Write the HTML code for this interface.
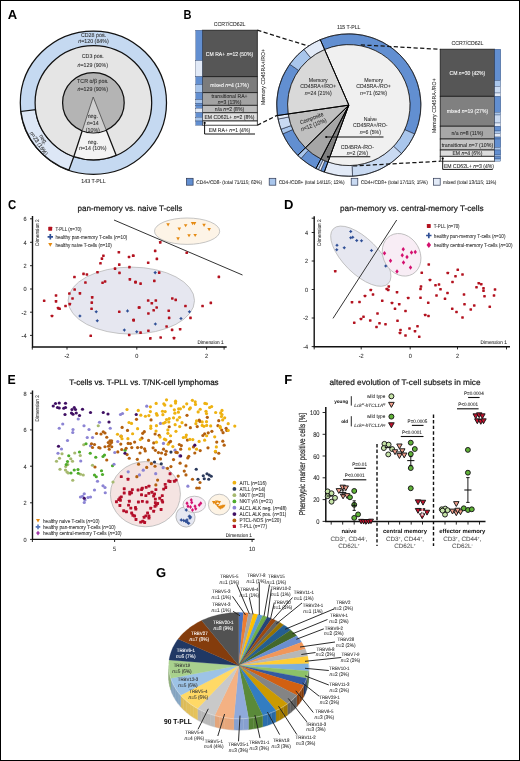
<!DOCTYPE html>
<html lang="en"><head><meta charset="utf-8"><title>Figure</title>
<style>
html,body{margin:0;padding:0;background:#fff;}
body{width:520px;height:761px;overflow:hidden;}
svg{display:block;font-family:"Liberation Sans",sans-serif;text-rendering:geometricPrecision;}
</style></head><body>
<svg width="520" height="761" viewBox="0 0 520 761">
<rect x="0" y="0" width="520" height="761" fill="#fff"/>
<g transform="translate(0 102.7) scale(1 0.98) translate(0 -102.7)">
<circle cx="93.4" cy="102.7" r="73.1" fill="#c5d9f1" stroke="#111" stroke-width="1.25"/>
<path d="M68.88,171.56 A73.10,73.10 0 0 1 20.84,111.61 L35.53,109.80 A58.30,58.30 0 0 0 73.84,157.62 Z" fill="#dde7f6" stroke="#111" stroke-width="1.25"/>
<circle cx="93.4" cy="102.7" r="58.3" fill="#e5e5e5" stroke="#111" stroke-width="1.25"/>
<path d="M93.2,96.9 L73.84,157.62 A58.3,58.3 0 0 0 116.18,156.37 Z" fill="#f3f3f3" stroke="#111" stroke-width="1.25" stroke-linejoin="round"/>
<circle cx="93.4" cy="102.7" r="30.8" fill="#b4b4b4" stroke="#111" stroke-width="1.25"/>
<clipPath id="cA"><circle cx="93.4" cy="102.7" r="30.400000000000002"/></clipPath>
<path clip-path="url(#cA)" d="M93.2,96.9 L73.84,157.62 L116.18,156.37 Z" fill="#d0d0d0" stroke="#444" stroke-width="0.8"/>
</g>
<text x="93.50" y="37.40" font-size="5.83" text-anchor="middle" fill="#2a2a2a" textLength="25.04" lengthAdjust="spacingAndGlyphs" stroke="#2a2a2a" stroke-width="0.07">CD28 pos.</text>
<text x="93.50" y="43.40" font-size="5.83" text-anchor="middle" fill="#2a2a2a" textLength="30.50" lengthAdjust="spacingAndGlyphs" stroke="#2a2a2a" stroke-width="0.07"><tspan font-style="italic">n</tspan>=120 (84%)</text>
<text x="92.80" y="58.30" font-size="5.83" text-anchor="middle" fill="#2a2a2a" textLength="22.09" lengthAdjust="spacingAndGlyphs" stroke="#2a2a2a" stroke-width="0.07">CD3 pos.</text>
<text x="92.80" y="66.50" font-size="5.83" text-anchor="middle" fill="#2a2a2a" textLength="30.50" lengthAdjust="spacingAndGlyphs" stroke="#2a2a2a" stroke-width="0.07"><tspan font-style="italic">n</tspan>=129 (90%)</text>
<text x="92.80" y="82.70" font-size="5.83" text-anchor="middle" fill="#2a2a2a" textLength="31.44" lengthAdjust="spacingAndGlyphs" stroke="#2a2a2a" stroke-width="0.07">TCR α/β pos.</text>
<text x="92.80" y="90.70" font-size="5.83" text-anchor="middle" fill="#2a2a2a" textLength="30.50" lengthAdjust="spacingAndGlyphs" stroke="#2a2a2a" stroke-width="0.07"><tspan font-style="italic">n</tspan>=129 (90%)</text>
<text x="92.80" y="117.70" font-size="5.83" text-anchor="middle" fill="#2a2a2a" textLength="10.32" lengthAdjust="spacingAndGlyphs" stroke="#2a2a2a" stroke-width="0.07">neg.</text>
<text x="92.80" y="125.30" font-size="5.83" text-anchor="middle" fill="#2a2a2a" textLength="11.94" lengthAdjust="spacingAndGlyphs" stroke="#2a2a2a" stroke-width="0.07"><tspan font-style="italic">n</tspan>=14</text>
<text x="92.80" y="131.50" font-size="5.83" text-anchor="middle" fill="#2a2a2a" textLength="14.14" lengthAdjust="spacingAndGlyphs" stroke="#2a2a2a" stroke-width="0.07">(10%)</text>
<text x="92.80" y="143.70" font-size="5.83" text-anchor="middle" fill="#2a2a2a" textLength="10.32" lengthAdjust="spacingAndGlyphs" stroke="#2a2a2a" stroke-width="0.07">neg.</text>
<text x="92.80" y="150.00" font-size="5.83" text-anchor="middle" fill="#2a2a2a" textLength="27.55" lengthAdjust="spacingAndGlyphs" stroke="#2a2a2a" stroke-width="0.07"><tspan font-style="italic">n</tspan>=14 (10%)</text>
<text x="93.50" y="183.40" font-size="5.83" text-anchor="middle" fill="#2a2a2a" textLength="24.36" lengthAdjust="spacingAndGlyphs" stroke="#2a2a2a" stroke-width="0.07">143 T-PLL</text>
<text x="43.60" y="141.30" font-size="5.83" text-anchor="middle" fill="#2a2a2a" textLength="10.32" lengthAdjust="spacingAndGlyphs" transform="rotate(56 43.60 139.20)" stroke="#2a2a2a" stroke-width="0.07">neg.</text>
<text x="39.00" y="145.50" font-size="5.83" text-anchor="middle" fill="#2a2a2a" textLength="27.55" lengthAdjust="spacingAndGlyphs" transform="rotate(56 39.00 143.40)" stroke="#2a2a2a" stroke-width="0.07"><tspan font-style="italic">n</tspan>=23 (16%)</text>
<text x="12.40" y="18.68" font-size="13" text-anchor="middle" fill="#000" font-weight="bold">A</text>
<text x="187.60" y="18.88" font-size="13" text-anchor="middle" fill="#000" font-weight="bold" textLength="8.00" lengthAdjust="spacingAndGlyphs">B</text>
<rect x="202.3" y="30.2" width="55.0" height="46.50" fill="#565656" stroke="#1a1a1a" stroke-width="0.8"/>
<text x="229.50" y="55.67" font-size="5.61" text-anchor="middle" fill="#fff" textLength="47.34" lengthAdjust="spacingAndGlyphs" stroke="#fff" stroke-width="0.07">CM RA+ <tspan font-style="italic">n</tspan>=12 (50%)</text>
<rect x="202.3" y="76.7" width="55.0" height="16.00" fill="#7c7c7c" stroke="#1a1a1a" stroke-width="0.8"/>
<text x="229.50" y="86.92" font-size="5.61" text-anchor="middle" fill="#fff" textLength="38.69" lengthAdjust="spacingAndGlyphs" stroke="#fff" stroke-width="0.07">mixed <tspan font-style="italic">n</tspan>=4 (17%)</text>
<rect x="202.3" y="92.7" width="55.0" height="12.60" fill="#a3a3a3" stroke="#1a1a1a" stroke-width="0.8"/>
<rect x="202.3" y="105.3" width="55.0" height="7.50" fill="#bcbcbc" stroke="#1a1a1a" stroke-width="0.8"/>
<text x="229.50" y="111.27" font-size="5.61" text-anchor="middle" fill="#2a2a2a" textLength="29.34" lengthAdjust="spacingAndGlyphs" stroke="#2a2a2a" stroke-width="0.07">n/a <tspan font-style="italic">n</tspan>=2 (8%)</text>
<rect x="202.3" y="112.8" width="55.0" height="8.20" fill="#dedede" stroke="#1a1a1a" stroke-width="0.8"/>
<text x="229.50" y="119.12" font-size="5.61" text-anchor="middle" fill="#2a2a2a" textLength="50.17" lengthAdjust="spacingAndGlyphs" stroke="#2a2a2a" stroke-width="0.07">EM CD62L+ <tspan font-style="italic">n</tspan>=2 (8%)</text>
<rect x="202.3" y="121.0" width="55.0" height="4.20" fill="#ffffff" stroke="#1a1a1a" stroke-width="0.8"/>
<text x="229.50" y="97.92" font-size="5.61" text-anchor="middle" fill="#2a2a2a" textLength="36.14" lengthAdjust="spacingAndGlyphs" stroke="#2a2a2a" stroke-width="0.07">transitional RA+</text>
<text x="229.50" y="103.92" font-size="5.61" text-anchor="middle" fill="#2a2a2a" textLength="23.67" lengthAdjust="spacingAndGlyphs" stroke="#2a2a2a" stroke-width="0.07"><tspan font-style="italic">n</tspan>=3 (13%)</text>
<rect x="195.8" y="30.20" width="6.5" height="30.40" fill="#628fd1" stroke="#2b3f66" stroke-width="0.35"/>
<rect x="195.8" y="60.60" width="6.5" height="16.10" fill="#e2eaf7" stroke="#2b3f66" stroke-width="0.35"/>
<rect x="195.8" y="76.70" width="6.5" height="7.90" fill="#628fd1" stroke="#2b3f66" stroke-width="0.35"/>
<rect x="195.8" y="84.60" width="6.5" height="8.10" fill="#a9c6ec" stroke="#2b3f66" stroke-width="0.35"/>
<rect x="195.8" y="92.70" width="6.5" height="6.90" fill="#628fd1" stroke="#2b3f66" stroke-width="0.35"/>
<rect x="195.8" y="99.60" width="6.5" height="3.60" fill="#a9c6ec" stroke="#2b3f66" stroke-width="0.35"/>
<rect x="195.8" y="103.20" width="6.5" height="2.10" fill="#628fd1" stroke="#2b3f66" stroke-width="0.35"/>
<rect x="195.8" y="105.30" width="6.5" height="2.90" fill="#628fd1" stroke="#2b3f66" stroke-width="0.35"/>
<rect x="195.8" y="108.20" width="6.5" height="4.60" fill="#e2eaf7" stroke="#2b3f66" stroke-width="0.35"/>
<rect x="195.8" y="112.80" width="6.5" height="4.40" fill="#628fd1" stroke="#2b3f66" stroke-width="0.35"/>
<rect x="195.8" y="117.20" width="6.5" height="3.80" fill="#a9c6ec" stroke="#2b3f66" stroke-width="0.35"/>
<rect x="195.8" y="121.00" width="6.5" height="4.20" fill="#628fd1" stroke="#2b3f66" stroke-width="0.35"/>
<text x="229.60" y="26.06" font-size="5.72" text-anchor="middle" fill="#2a2a2a" textLength="31.79" lengthAdjust="spacingAndGlyphs" stroke="#2a2a2a" stroke-width="0.07">CCR7/CD62L</text>
<text x="263.00" y="79.06" font-size="5.72" text-anchor="middle" fill="#2a2a2a" textLength="56.06" lengthAdjust="spacingAndGlyphs" transform="rotate(-90 263.00 77.00)" stroke="#2a2a2a" stroke-width="0.07">Memory CD45RA+/RO+</text>
<circle cx="204.6" cy="122.9" r="1.1" fill="#000"/>
<path d="M204.6,122.9 V134 H255" fill="none" stroke="#111" stroke-width="1.0"/>
<text x="229.50" y="131.72" font-size="5.61" text-anchor="middle" fill="#2a2a2a" textLength="41.38" lengthAdjust="spacingAndGlyphs" stroke="#2a2a2a" stroke-width="0.07">EM RA+ <tspan font-style="italic">n</tspan>=1 (4%)</text>
<path d="M257.3,30.2 L310,46.6" stroke="#151515" stroke-width="1.25" stroke-dasharray="4.2 2.4" fill="none"/>
<path d="M257.3,125.2 L278,114.9" stroke="#151515" stroke-width="1.25" stroke-dasharray="4.2 2.4" fill="none"/>
<g transform="translate(0 105.1) scale(1 0.988) translate(0 -105.1)">
<path d="M320.28,38.88 A72.10,72.10 0 0 1 414.67,134.43 L404.71,129.99 A61.20,61.20 0 0 0 324.59,48.89 Z" fill="#628fd1" stroke="#1a2238" stroke-width="0.6"/>
<path d="M414.67,134.43 A72.10,72.10 0 0 1 401.53,154.27 L393.56,146.84 A61.20,61.20 0 0 0 404.71,129.99 Z" fill="#a9c6ec" stroke="#1a2238" stroke-width="0.6"/>
<path d="M401.53,154.27 A72.10,72.10 0 0 1 352.57,177.10 L352.00,166.22 A61.20,61.20 0 0 0 393.56,146.84 Z" fill="#c9daf2" stroke="#1a2238" stroke-width="0.6"/>
<path d="M352.57,177.10 A72.10,72.10 0 0 1 324.26,172.89 L327.97,162.65 A61.20,61.20 0 0 0 352.00,166.22 Z" fill="#e2eaf7" stroke="#1a2238" stroke-width="0.6"/>
<path d="M324.26,172.89 A72.10,72.10 0 0 1 320.63,171.47 L324.89,161.43 A61.20,61.20 0 0 0 327.97,162.65 Z" fill="#628fd1" stroke="#1a2238" stroke-width="0.6"/>
<path d="M320.63,171.47 A72.10,72.10 0 0 1 318.33,170.44 L322.94,160.57 A61.20,61.20 0 0 0 324.89,161.43 Z" fill="#e2eaf7" stroke="#1a2238" stroke-width="0.6"/>
<path d="M318.33,170.44 A72.10,72.10 0 0 1 315.96,169.28 L320.92,159.58 A61.20,61.20 0 0 0 322.94,160.57 Z" fill="#a9c6ec" stroke="#1a2238" stroke-width="0.6"/>
<path d="M315.96,169.28 A72.10,72.10 0 0 1 301.03,159.10 L308.25,150.94 A61.20,61.20 0 0 0 320.92,159.58 Z" fill="#628fd1" stroke="#1a2238" stroke-width="0.6"/>
<path d="M301.03,159.10 A72.10,72.10 0 0 1 297.73,155.99 L305.45,148.30 A61.20,61.20 0 0 0 308.25,150.94 Z" fill="#a9c6ec" stroke="#1a2238" stroke-width="0.6"/>
<path d="M297.73,155.99 A72.10,72.10 0 0 1 282.83,134.20 L292.80,129.80 A61.20,61.20 0 0 0 305.45,148.30 Z" fill="#628fd1" stroke="#1a2238" stroke-width="0.6"/>
<path d="M282.83,134.20 A72.10,72.10 0 0 1 280.96,129.52 L291.22,125.83 A61.20,61.20 0 0 0 292.80,129.80 Z" fill="#a9c6ec" stroke="#1a2238" stroke-width="0.6"/>
<path d="M280.96,129.52 A72.10,72.10 0 0 1 278.10,119.23 L288.79,117.09 A61.20,61.20 0 0 0 291.22,125.83 Z" fill="#c9daf2" stroke="#1a2238" stroke-width="0.6"/>
<path d="M278.10,119.23 A72.10,72.10 0 0 1 277.47,115.63 L288.26,114.04 A61.20,61.20 0 0 0 288.79,117.09 Z" fill="#e2eaf7" stroke="#1a2238" stroke-width="0.6"/>
<path d="M277.47,115.63 A72.10,72.10 0 0 1 289.74,63.75 L298.67,70.00 A61.20,61.20 0 0 0 288.26,114.04 Z" fill="#628fd1" stroke="#1a2238" stroke-width="0.6"/>
<path d="M289.74,63.75 A72.10,72.10 0 0 1 303.92,48.67 L310.70,57.20 A61.20,61.20 0 0 0 298.67,70.00 Z" fill="#a9c6ec" stroke="#1a2238" stroke-width="0.6"/>
<path d="M303.92,48.67 A72.10,72.10 0 0 1 320.28,38.88 L324.59,48.89 A61.20,61.20 0 0 0 310.70,57.20 Z" fill="#e2eaf7" stroke="#1a2238" stroke-width="0.6"/>
<path d="M348.80,105.10 L324.59,48.89 A61.20,61.20 0 1 1 327.97,162.65 Z" fill="#f0f0f0" stroke="#111" stroke-width="0.8" stroke-linejoin="round"/>
<path d="M348.80,105.10 L327.97,162.65 A61.20,61.20 0 0 1 320.92,159.58 Z" fill="#7f7f7f" stroke="#111" stroke-width="0.8" stroke-linejoin="round"/>
<path d="M348.80,105.10 L320.92,159.58 A61.20,61.20 0 0 1 305.45,148.30 Z" fill="#a6a6a6" stroke="#111" stroke-width="0.8" stroke-linejoin="round"/>
<path d="M348.80,105.10 L305.45,148.30 A61.20,61.20 0 0 1 288.26,114.04 Z" fill="#c0c0c0" stroke="#111" stroke-width="0.8" stroke-linejoin="round"/>
<path d="M348.80,105.10 L288.26,114.04 A61.20,61.20 0 0 1 324.59,48.89 Z" fill="#d9d9d9" stroke="#111" stroke-width="0.8" stroke-linejoin="round"/>
<circle cx="348.8" cy="105.1" r="72.1" fill="none" stroke="#1a1a1a" stroke-width="0.8"/>
<line x1="348.8" y1="105.1" x2="320.28" y2="38.88" stroke="#000" stroke-width="1.0"/>
<line x1="348.8" y1="105.1" x2="277.47" y2="115.63" stroke="#000" stroke-width="1.0"/>
<line x1="348.8" y1="105.1" x2="297.73" y2="155.99" stroke="#000" stroke-width="1.0"/>
<line x1="348.8" y1="105.1" x2="315.96" y2="169.28" stroke="#000" stroke-width="1.0"/>
<line x1="348.8" y1="105.1" x2="324.26" y2="172.89" stroke="#000" stroke-width="1.0"/>
</g>
<text x="373.60" y="81.66" font-size="5.72" text-anchor="middle" fill="#2a2a2a" textLength="18.78" lengthAdjust="spacingAndGlyphs" stroke="#2a2a2a" stroke-width="0.07">Memory</text>
<text x="373.60" y="88.26" font-size="5.72" text-anchor="middle" fill="#2a2a2a" textLength="34.53" lengthAdjust="spacingAndGlyphs" stroke="#2a2a2a" stroke-width="0.07">CD45RA-/RO+</text>
<text x="373.60" y="94.86" font-size="5.72" text-anchor="middle" fill="#2a2a2a" textLength="27.03" lengthAdjust="spacingAndGlyphs" stroke="#2a2a2a" stroke-width="0.07"><tspan font-style="italic">n</tspan>=71 (62%)</text>
<text x="318.20" y="81.66" font-size="5.72" text-anchor="middle" fill="#2a2a2a" textLength="18.78" lengthAdjust="spacingAndGlyphs" stroke="#2a2a2a" stroke-width="0.07">Memory</text>
<text x="318.20" y="88.26" font-size="5.72" text-anchor="middle" fill="#2a2a2a" textLength="35.84" lengthAdjust="spacingAndGlyphs" stroke="#2a2a2a" stroke-width="0.07">CD45RA+/RO+</text>
<text x="318.20" y="94.86" font-size="5.72" text-anchor="middle" fill="#2a2a2a" textLength="27.03" lengthAdjust="spacingAndGlyphs" stroke="#2a2a2a" stroke-width="0.07"><tspan font-style="italic">n</tspan>=24 (21%)</text>
<text x="370.30" y="120.66" font-size="5.72" text-anchor="middle" fill="#2a2a2a" textLength="13.29" lengthAdjust="spacingAndGlyphs" stroke="#2a2a2a" stroke-width="0.07">Naive</text>
<text x="370.30" y="127.06" font-size="5.72" text-anchor="middle" fill="#2a2a2a" textLength="34.53" lengthAdjust="spacingAndGlyphs" stroke="#2a2a2a" stroke-width="0.07">CD45RA+/RO-</text>
<text x="370.30" y="133.66" font-size="5.72" text-anchor="middle" fill="#2a2a2a" textLength="21.24" lengthAdjust="spacingAndGlyphs" stroke="#2a2a2a" stroke-width="0.07"><tspan font-style="italic">n</tspan>=6 (5%)</text>
<text x="357.30" y="148.86" font-size="5.72" text-anchor="middle" fill="#2a2a2a" textLength="33.23" lengthAdjust="spacingAndGlyphs" stroke="#2a2a2a" stroke-width="0.07">CD45RA-/RO-</text>
<text x="357.30" y="155.46" font-size="5.72" text-anchor="middle" fill="#2a2a2a" textLength="21.24" lengthAdjust="spacingAndGlyphs" stroke="#2a2a2a" stroke-width="0.07"><tspan font-style="italic">n</tspan>=2 (2%)</text>
<text x="348.70" y="28.76" font-size="5.72" text-anchor="middle" fill="#2a2a2a" textLength="23.52" lengthAdjust="spacingAndGlyphs" stroke="#2a2a2a" stroke-width="0.07">115 T-PLL</text>
<text x="311.60" y="120.26" font-size="5.72" text-anchor="middle" fill="#2a2a2a" textLength="24.86" lengthAdjust="spacingAndGlyphs" transform="rotate(-21 311.60 118.20)" stroke="#2a2a2a" stroke-width="0.07">Composite</text>
<text x="313.60" y="126.66" font-size="5.72" text-anchor="middle" fill="#2a2a2a" textLength="27.03" lengthAdjust="spacingAndGlyphs" transform="rotate(-21 313.60 124.60)" stroke="#2a2a2a" stroke-width="0.07"><tspan font-style="italic">n</tspan>=12 (10%)</text>
<circle cx="326.2" cy="137" r="1.1" fill="#000"/><path d="M326.2,137 H383.5" stroke="#111" stroke-width="1.1"/>
<circle cx="328.0" cy="156.8" r="1.1" fill="#000"/><path d="M328,156.8 H370.3" stroke="#111" stroke-width="1.1"/>
<path d="M360.8,44.9 L440.2,49.3" stroke="#151515" stroke-width="1.25" stroke-dasharray="4.2 2.4" fill="none"/>
<path d="M353,166 L440.2,161.2" stroke="#151515" stroke-width="1.25" stroke-dasharray="4.2 2.4" fill="none"/>
<rect x="440.2" y="49.2" width="54.400000000000034" height="47.10" fill="#565656" stroke="#1a1a1a" stroke-width="0.8"/>
<text x="467.40" y="74.97" font-size="5.61" text-anchor="middle" fill="#fff" textLength="35.86" lengthAdjust="spacingAndGlyphs" stroke="#fff" stroke-width="0.07">CM <tspan font-style="italic">n</tspan>=30 (42%)</text>
<rect x="440.2" y="96.3" width="54.400000000000034" height="29.90" fill="#808080" stroke="#1a1a1a" stroke-width="0.8"/>
<text x="467.40" y="113.47" font-size="5.61" text-anchor="middle" fill="#fff" textLength="41.53" lengthAdjust="spacingAndGlyphs" stroke="#fff" stroke-width="0.07">mixed <tspan font-style="italic">n</tspan>=19 (27%)</text>
<rect x="440.2" y="126.2" width="54.400000000000034" height="12.80" fill="#a8a8a8" stroke="#1a1a1a" stroke-width="0.8"/>
<text x="467.40" y="134.82" font-size="5.61" text-anchor="middle" fill="#2a2a2a" textLength="31.80" lengthAdjust="spacingAndGlyphs" stroke="#2a2a2a" stroke-width="0.07">n/a <tspan font-style="italic">n</tspan>=8 (11%)</text>
<rect x="440.2" y="139.0" width="54.400000000000034" height="11.00" fill="#c4c4c4" stroke="#1a1a1a" stroke-width="0.8"/>
<text x="467.40" y="146.72" font-size="5.61" text-anchor="middle" fill="#2a2a2a" textLength="51.50" lengthAdjust="spacingAndGlyphs" stroke="#2a2a2a" stroke-width="0.07">transitional <tspan font-style="italic">n</tspan>=7 (10%)</text>
<rect x="440.2" y="150.0" width="54.400000000000034" height="6.30" fill="#dddddd" stroke="#1a1a1a" stroke-width="0.8"/>
<text x="467.40" y="155.37" font-size="5.61" text-anchor="middle" fill="#2a2a2a" textLength="29.90" lengthAdjust="spacingAndGlyphs" stroke="#2a2a2a" stroke-width="0.07">EM <tspan font-style="italic">n</tspan>=4 (6%)</text>
<rect x="440.2" y="156.3" width="54.400000000000034" height="4.90" fill="#ffffff" stroke="#1a1a1a" stroke-width="0.8"/>
<rect x="494.6" y="49.20" width="6.2" height="31.40" fill="#628fd1" stroke="#2b3f66" stroke-width="0.35"/>
<rect x="494.6" y="80.60" width="6.2" height="5.90" fill="#a9c6ec" stroke="#2b3f66" stroke-width="0.35"/>
<rect x="494.6" y="86.50" width="6.2" height="6.50" fill="#c9daf2" stroke="#2b3f66" stroke-width="0.35"/>
<rect x="494.6" y="93.00" width="6.2" height="3.30" fill="#e2eaf7" stroke="#2b3f66" stroke-width="0.35"/>
<rect x="494.6" y="96.30" width="6.2" height="16.00" fill="#628fd1" stroke="#2b3f66" stroke-width="0.35"/>
<rect x="494.6" y="112.30" width="6.2" height="2.70" fill="#a9c6ec" stroke="#2b3f66" stroke-width="0.35"/>
<rect x="494.6" y="115.00" width="6.2" height="8.00" fill="#c9daf2" stroke="#2b3f66" stroke-width="0.35"/>
<rect x="494.6" y="123.00" width="6.2" height="3.20" fill="#e2eaf7" stroke="#2b3f66" stroke-width="0.35"/>
<rect x="494.6" y="126.20" width="6.2" height="4.80" fill="#628fd1" stroke="#2b3f66" stroke-width="0.35"/>
<rect x="494.6" y="131.00" width="6.2" height="2.50" fill="#a9c6ec" stroke="#2b3f66" stroke-width="0.35"/>
<rect x="494.6" y="133.50" width="6.2" height="3.50" fill="#e2eaf7" stroke="#2b3f66" stroke-width="0.35"/>
<rect x="494.6" y="137.00" width="6.2" height="2.00" fill="#628fd1" stroke="#2b3f66" stroke-width="0.35"/>
<rect x="494.6" y="139.00" width="6.2" height="8.50" fill="#628fd1" stroke="#2b3f66" stroke-width="0.35"/>
<rect x="494.6" y="147.50" width="6.2" height="2.50" fill="#a9c6ec" stroke="#2b3f66" stroke-width="0.35"/>
<rect x="494.6" y="150.00" width="6.2" height="5.00" fill="#628fd1" stroke="#2b3f66" stroke-width="0.35"/>
<rect x="494.6" y="155.00" width="6.2" height="1.30" fill="#a9c6ec" stroke="#2b3f66" stroke-width="0.35"/>
<rect x="494.6" y="156.30" width="6.2" height="2.70" fill="#628fd1" stroke="#2b3f66" stroke-width="0.35"/>
<rect x="494.6" y="159.00" width="6.2" height="2.20" fill="#a9c6ec" stroke="#2b3f66" stroke-width="0.35"/>
<text x="467.50" y="45.06" font-size="5.72" text-anchor="middle" fill="#2a2a2a" textLength="31.79" lengthAdjust="spacingAndGlyphs" stroke="#2a2a2a" stroke-width="0.07">CCR7/CD62L</text>
<text x="433.80" y="107.76" font-size="5.72" text-anchor="middle" fill="#2a2a2a" textLength="54.76" lengthAdjust="spacingAndGlyphs" transform="rotate(-90 433.80 105.70)" stroke="#2a2a2a" stroke-width="0.07">Memory CD45RA-/RO+</text>
<circle cx="442.7" cy="158.4" r="1.1" fill="#000"/>
<path d="M442.7,158.4 V169.4 H492.7" fill="none" stroke="#111" stroke-width="1.0"/>
<text x="469.00" y="167.92" font-size="5.61" text-anchor="middle" fill="#2a2a2a" textLength="50.17" lengthAdjust="spacingAndGlyphs" stroke="#2a2a2a" stroke-width="0.07">EM CD62L+ <tspan font-style="italic">n</tspan>=3 (4%)</text>
<rect x="186.5" y="178.3" width="6.6" height="6.9" fill="#628fd1" stroke="#2b3550" stroke-width="0.7"/>
<text x="196.30" y="183.88" font-size="5.23" text-anchor="start" fill="#2a2a2a" textLength="65.78" lengthAdjust="spacingAndGlyphs" stroke="#2a2a2a" stroke-width="0.07">CD4+/CD8- (total 71/115; 62%)</text>
<rect x="269.2" y="178.3" width="6.6" height="6.9" fill="#a9c6ec" stroke="#2b3550" stroke-width="0.7"/>
<text x="278.70" y="183.88" font-size="5.23" text-anchor="start" fill="#2a2a2a" textLength="65.78" lengthAdjust="spacingAndGlyphs" stroke="#2a2a2a" stroke-width="0.07">CD4-/CD8+ (total 14/115; 12%)</text>
<rect x="351.2" y="178.3" width="6.6" height="6.9" fill="#c9daf2" stroke="#2b3550" stroke-width="0.7"/>
<text x="360.80" y="183.88" font-size="5.23" text-anchor="start" fill="#2a2a2a" textLength="66.98" lengthAdjust="spacingAndGlyphs" stroke="#2a2a2a" stroke-width="0.07">CD4+/CD8+ (total 17/115; 15%)</text>
<rect x="433.6" y="178.3" width="6.6" height="6.9" fill="#e2eaf7" stroke="#2b3550" stroke-width="0.7"/>
<text x="443.00" y="183.88" font-size="5.23" text-anchor="start" fill="#2a2a2a" textLength="53.42" lengthAdjust="spacingAndGlyphs" stroke="#2a2a2a" stroke-width="0.07">mixed (total 13/115; 11%)</text>
<text x="12.00" y="209.38" font-size="13" text-anchor="middle" fill="#000" font-weight="bold" textLength="8.20" lengthAdjust="spacingAndGlyphs">C</text>
<text x="129.90" y="210.50" font-size="8.05" text-anchor="middle" fill="#1a1a1a" textLength="105.00" lengthAdjust="spacingAndGlyphs" stroke="#1a1a1a" stroke-width="0.22">pan-memory vs. naive T-cells</text>
<ellipse cx="131.3" cy="300.6" rx="63.2" ry="33.5" fill="#e6e7f0" stroke="#b8b8b8" stroke-width="0.8"/>
<ellipse cx="187.1" cy="231.2" rx="32.6" ry="13.2" fill="#fdf4e7" stroke="#b8b8b8" stroke-width="0.8"/>
<line x1="114" y1="220" x2="242.5" y2="275" stroke="#333" stroke-width="1.0"/>
<path d="M32.5,216 V347 H226.7" fill="none" stroke="#111" stroke-width="1.4"/>
<line x1="30.0" y1="218.8" x2="32.5" y2="218.8" stroke="#111" stroke-width="0.9"/>
<text x="26.50" y="221.22" font-size="6.16" text-anchor="end" fill="#2a2a2a" textLength="3.11" lengthAdjust="spacingAndGlyphs" stroke="#2a2a2a" stroke-width="0.07">6</text>
<line x1="30.0" y1="242.3" x2="32.5" y2="242.3" stroke="#111" stroke-width="0.9"/>
<text x="26.50" y="244.72" font-size="6.16" text-anchor="end" fill="#2a2a2a" textLength="3.11" lengthAdjust="spacingAndGlyphs" stroke="#2a2a2a" stroke-width="0.07">4</text>
<line x1="30.0" y1="265.7" x2="32.5" y2="265.7" stroke="#111" stroke-width="0.9"/>
<text x="26.50" y="268.12" font-size="6.16" text-anchor="end" fill="#2a2a2a" textLength="3.11" lengthAdjust="spacingAndGlyphs" stroke="#2a2a2a" stroke-width="0.07">2</text>
<line x1="30.0" y1="289.0" x2="32.5" y2="289.0" stroke="#111" stroke-width="0.9"/>
<text x="26.50" y="291.42" font-size="6.16" text-anchor="end" fill="#2a2a2a" textLength="3.11" lengthAdjust="spacingAndGlyphs" stroke="#2a2a2a" stroke-width="0.07">0</text>
<line x1="30.0" y1="312.2" x2="32.5" y2="312.2" stroke="#111" stroke-width="0.9"/>
<text x="26.50" y="314.62" font-size="6.16" text-anchor="end" fill="#2a2a2a" textLength="4.98" lengthAdjust="spacingAndGlyphs" stroke="#2a2a2a" stroke-width="0.07">-2</text>
<line x1="30.0" y1="335.4" x2="32.5" y2="335.4" stroke="#111" stroke-width="0.9"/>
<text x="26.50" y="337.82" font-size="6.16" text-anchor="end" fill="#2a2a2a" textLength="4.98" lengthAdjust="spacingAndGlyphs" stroke="#2a2a2a" stroke-width="0.07">-4</text>
<line x1="32.3" y1="347" x2="32.3" y2="349.6" stroke="#111" stroke-width="0.9"/>
<line x1="67.0" y1="347" x2="67.0" y2="349.6" stroke="#111" stroke-width="0.9"/>
<text x="67.00" y="358.42" font-size="6.16" text-anchor="middle" fill="#2a2a2a" textLength="4.98" lengthAdjust="spacingAndGlyphs" stroke="#2a2a2a" stroke-width="0.07">-2</text>
<line x1="136.8" y1="347" x2="136.8" y2="349.6" stroke="#111" stroke-width="0.9"/>
<text x="136.80" y="358.42" font-size="6.16" text-anchor="middle" fill="#2a2a2a" textLength="3.11" lengthAdjust="spacingAndGlyphs" stroke="#2a2a2a" stroke-width="0.07">0</text>
<line x1="206.6" y1="347" x2="206.6" y2="349.6" stroke="#111" stroke-width="0.9"/>
<text x="206.60" y="358.42" font-size="6.16" text-anchor="middle" fill="#2a2a2a" textLength="3.11" lengthAdjust="spacingAndGlyphs" stroke="#2a2a2a" stroke-width="0.07">2</text>
<line x1="224.1" y1="347" x2="224.1" y2="349.6" stroke="#111" stroke-width="0.9"/>
<rect x="117.55" y="251.01" width="2.6" height="2.6" rx="0.45" fill="#b3121f"/><rect x="102.11" y="254.39" width="2.6" height="2.6" rx="0.45" fill="#b3121f"/><rect x="100.63" y="257.36" width="2.6" height="2.6" rx="0.45" fill="#b3121f"/><rect x="99.15" y="262.01" width="2.6" height="2.6" rx="0.45" fill="#b3121f"/><rect x="127.71" y="255.66" width="2.6" height="2.6" rx="0.45" fill="#b3121f"/><rect x="131.94" y="254.39" width="2.6" height="2.6" rx="0.45" fill="#b3121f"/><rect x="117.97" y="263.28" width="2.6" height="2.6" rx="0.45" fill="#b3121f"/><rect x="128.13" y="265.82" width="2.6" height="2.6" rx="0.45" fill="#b3121f"/><rect x="113.74" y="267.30" width="2.6" height="2.6" rx="0.45" fill="#b3121f"/><rect x="118.19" y="271.53" width="2.6" height="2.6" rx="0.45" fill="#b3121f"/><rect x="96.18" y="270.90" width="2.6" height="2.6" rx="0.45" fill="#b3121f"/><rect x="82.22" y="272.59" width="2.6" height="2.6" rx="0.45" fill="#b3121f"/><rect x="85.61" y="273.22" width="2.6" height="2.6" rx="0.45" fill="#b3121f"/><rect x="73.13" y="275.76" width="2.6" height="2.6" rx="0.45" fill="#b3121f"/><rect x="84.13" y="281.26" width="2.6" height="2.6" rx="0.45" fill="#b3121f"/><rect x="101.26" y="281.47" width="2.6" height="2.6" rx="0.45" fill="#b3121f"/><rect x="103.80" y="280.20" width="2.6" height="2.6" rx="0.45" fill="#b3121f"/><rect x="128.55" y="278.09" width="2.6" height="2.6" rx="0.45" fill="#b3121f"/><rect x="134.26" y="280.84" width="2.6" height="2.6" rx="0.45" fill="#b3121f"/><rect x="73.34" y="288.24" width="2.6" height="2.6" rx="0.45" fill="#b3121f"/><rect x="68.05" y="292.26" width="2.6" height="2.6" rx="0.45" fill="#b3121f"/><rect x="78.63" y="292.05" width="2.6" height="2.6" rx="0.45" fill="#b3121f"/><rect x="71.22" y="297.13" width="2.6" height="2.6" rx="0.45" fill="#b3121f"/><rect x="68.47" y="302.84" width="2.6" height="2.6" rx="0.45" fill="#b3121f"/><rect x="64.24" y="304.74" width="2.6" height="2.6" rx="0.45" fill="#b3121f"/><rect x="54.72" y="294.17" width="2.6" height="2.6" rx="0.45" fill="#b3121f"/><rect x="54.72" y="300.09" width="2.6" height="2.6" rx="0.45" fill="#b3121f"/><rect x="42.87" y="299.46" width="2.6" height="2.6" rx="0.45" fill="#b3121f"/><rect x="56.84" y="306.86" width="2.6" height="2.6" rx="0.45" fill="#b3121f"/><rect x="58.32" y="307.49" width="2.6" height="2.6" rx="0.45" fill="#b3121f"/><rect x="50.70" y="314.69" width="2.6" height="2.6" rx="0.45" fill="#b3121f"/><rect x="90.90" y="296.07" width="2.6" height="2.6" rx="0.45" fill="#b3121f"/><rect x="90.47" y="301.36" width="2.6" height="2.6" rx="0.45" fill="#b3121f"/><rect x="90.26" y="307.49" width="2.6" height="2.6" rx="0.45" fill="#b3121f"/><rect x="117.97" y="310.46" width="2.6" height="2.6" rx="0.45" fill="#b3121f"/><rect x="138.07" y="306.22" width="2.6" height="2.6" rx="0.45" fill="#b3121f"/><rect x="158.95" y="241.07" width="2.6" height="2.6" rx="0.45" fill="#b3121f"/><rect x="153.87" y="249.53" width="2.6" height="2.6" rx="0.45" fill="#b3121f"/><rect x="185.40" y="251.43" width="2.6" height="2.6" rx="0.45" fill="#b3121f"/><rect x="131.87" y="254.39" width="2.6" height="2.6" rx="0.45" fill="#b3121f"/><rect x="155.57" y="257.57" width="2.6" height="2.6" rx="0.45" fill="#b3121f"/><rect x="146.89" y="261.38" width="2.6" height="2.6" rx="0.45" fill="#b3121f"/><rect x="157.89" y="271.32" width="2.6" height="2.6" rx="0.45" fill="#b3121f"/><rect x="217.55" y="275.55" width="2.6" height="2.6" rx="0.45" fill="#b3121f"/><rect x="153.03" y="279.57" width="2.6" height="2.6" rx="0.45" fill="#b3121f"/><rect x="134.20" y="280.84" width="2.6" height="2.6" rx="0.45" fill="#b3121f"/><rect x="139.28" y="282.32" width="2.6" height="2.6" rx="0.45" fill="#b3121f"/><rect x="171.01" y="297.13" width="2.6" height="2.6" rx="0.45" fill="#b3121f"/><rect x="174.39" y="298.61" width="2.6" height="2.6" rx="0.45" fill="#b3121f"/><rect x="146.89" y="299.24" width="2.6" height="2.6" rx="0.45" fill="#b3121f"/><rect x="154.51" y="299.24" width="2.6" height="2.6" rx="0.45" fill="#b3121f"/><rect x="150.49" y="301.99" width="2.6" height="2.6" rx="0.45" fill="#b3121f"/><rect x="137.59" y="306.22" width="2.6" height="2.6" rx="0.45" fill="#b3121f"/><rect x="155.36" y="306.22" width="2.6" height="2.6" rx="0.45" fill="#b3121f"/><rect x="152.39" y="308.98" width="2.6" height="2.6" rx="0.45" fill="#b3121f"/><rect x="147.10" y="312.15" width="2.6" height="2.6" rx="0.45" fill="#b3121f"/><rect x="184.13" y="304.74" width="2.6" height="2.6" rx="0.45" fill="#b3121f"/><rect x="167.41" y="309.40" width="2.6" height="2.6" rx="0.45" fill="#b3121f"/><rect x="201.26" y="304.74" width="2.6" height="2.6" rx="0.45" fill="#b3121f"/><rect x="209.51" y="301.57" width="2.6" height="2.6" rx="0.45" fill="#b3121f"/><rect x="167.84" y="316.59" width="2.6" height="2.6" rx="0.45" fill="#b3121f"/><rect x="189.20" y="316.59" width="2.6" height="2.6" rx="0.45" fill="#b3121f"/><rect x="132.36" y="318.84" width="2.6" height="2.6" rx="0.45" fill="#b3121f"/><rect x="89.42" y="334.49" width="2.6" height="2.6" rx="0.45" fill="#b3121f"/><rect x="127.92" y="333.65" width="2.6" height="2.6" rx="0.45" fill="#b3121f"/><rect x="132.30" y="318.84" width="2.6" height="2.6" rx="0.45" fill="#b3121f"/><rect x="165.30" y="325.18" width="2.6" height="2.6" rx="0.45" fill="#b3121f"/><rect x="170.80" y="328.57" width="2.6" height="2.6" rx="0.45" fill="#b3121f"/><rect x="178.84" y="327.93" width="2.6" height="2.6" rx="0.45" fill="#b3121f"/><rect x="147.10" y="329.42" width="2.6" height="2.6" rx="0.45" fill="#b3121f"/><rect x="139.28" y="331.32" width="2.6" height="2.6" rx="0.45" fill="#b3121f"/><rect x="149.01" y="337.03" width="2.6" height="2.6" rx="0.45" fill="#b3121f"/><rect x="159.37" y="336.18" width="2.6" height="2.6" rx="0.45" fill="#b3121f"/><rect x="172.70" y="336.82" width="2.6" height="2.6" rx="0.45" fill="#b3121f"/>
<path d="M78.13,315.99 L79.15,315.21 L79.93,314.19 L80.71,315.21 L81.73,315.99 L80.71,316.77 L79.93,317.79 L79.15,316.77 Z" fill="#2f4f96"/><path d="M94.42,311.76 L95.44,310.98 L96.22,309.96 L97.00,310.98 L98.02,311.76 L97.00,312.54 L96.22,313.56 L95.44,312.54 Z" fill="#2f4f96"/><path d="M125.72,310.91 L126.74,310.13 L127.52,309.11 L128.30,310.13 L129.32,310.91 L128.30,311.69 L127.52,312.71 L126.74,311.69 Z" fill="#2f4f96"/><path d="M153.37,272.62 L154.39,271.84 L155.17,270.82 L155.95,271.84 L156.97,272.62 L155.95,273.40 L155.17,274.42 L154.39,273.40 Z" fill="#2f4f96"/><path d="M187.65,311.76 L188.67,310.98 L189.45,309.96 L190.23,310.98 L191.25,311.76 L190.23,312.54 L189.45,313.56 L188.67,312.54 Z" fill="#2f4f96"/><path d="M179.18,318.53 L180.20,317.75 L180.98,316.73 L181.76,317.75 L182.78,318.53 L181.76,319.31 L180.98,320.33 L180.20,319.31 Z" fill="#2f4f96"/><path d="M95.47,320.77 L96.49,319.99 L97.27,318.97 L98.05,319.99 L99.07,320.77 L98.05,321.55 L97.27,322.57 L96.49,321.55 Z" fill="#2f4f96"/><path d="M122.55,330.08 L123.57,329.30 L124.35,328.28 L125.13,329.30 L126.15,330.08 L125.13,330.86 L124.35,331.88 L123.57,330.86 Z" fill="#2f4f96"/><path d="M153.59,323.95 L154.61,323.17 L155.39,322.15 L156.17,323.17 L157.19,323.95 L156.17,324.73 L155.39,325.75 L154.61,324.73 Z" fill="#2f4f96"/><path d="M134.97,331.77 L135.99,330.99 L136.77,329.97 L137.55,330.99 L138.57,331.77 L137.55,332.55 L136.77,333.57 L135.99,332.55 Z" fill="#2f4f96"/>
<path d="M166.28,223.37 L169.88,223.37 L168.08,226.52 Z" fill="#e58a12"/><path d="M177.49,227.60 L181.09,227.60 L179.29,230.75 Z" fill="#e58a12"/><path d="M183.84,224.21 L187.44,224.21 L185.64,227.36 Z" fill="#e58a12"/><path d="M190.82,222.10 L194.42,222.10 L192.62,225.25 Z" fill="#e58a12"/><path d="M192.72,222.10 L196.32,222.10 L194.52,225.25 Z" fill="#e58a12"/><path d="M202.24,223.79 L205.84,223.79 L204.04,226.94 Z" fill="#e58a12"/><path d="M207.32,228.02 L210.92,228.02 L209.12,231.17 Z" fill="#e58a12"/><path d="M187.22,234.16 L190.82,234.16 L189.02,237.31 Z" fill="#e58a12"/><path d="M193.36,233.95 L196.96,233.95 L195.16,237.10 Z" fill="#e58a12"/><path d="M176.22,237.33 L179.82,237.33 L178.02,240.48 Z" fill="#e58a12"/>
<rect x="48.25" y="226.85" width="3.9" height="3.9" rx="0.45" fill="#b3121f"/>
<text x="55.40" y="230.62" font-size="5.61" text-anchor="start" fill="#2a2a2a" textLength="26.00" lengthAdjust="spacingAndGlyphs" stroke="#2a2a2a" stroke-width="0.07">T-PLL (<tspan font-style="italic">n</tspan>=70)</text>
<path d="M47.60,236.80 H53.00 M50.30,234.10 V239.50" stroke="#2f4f96" stroke-width="1.7" fill="none"/>
<text x="55.40" y="238.92" font-size="5.61" text-anchor="start" fill="#2a2a2a" textLength="71.90" lengthAdjust="spacingAndGlyphs" stroke="#2a2a2a" stroke-width="0.07">healthy pan-memory T-cells (<tspan font-style="italic">n</tspan>=10)</text>
<path d="M48.20,243.12 L52.40,243.12 L50.30,246.80 Z" fill="#e58a12"/>
<text x="55.40" y="246.72" font-size="5.61" text-anchor="start" fill="#2a2a2a" textLength="56.50" lengthAdjust="spacingAndGlyphs" stroke="#2a2a2a" stroke-width="0.07">healthy naive T-cells (<tspan font-style="italic">n</tspan>=10)</text>
<text x="37.60" y="234.36" font-size="5.17" text-anchor="middle" fill="#2a2a2a" textLength="26.30" lengthAdjust="spacingAndGlyphs" transform="rotate(-90 37.60 232.50)" stroke="#2a2a2a" stroke-width="0.07">Dimension 2</text>
<text x="223.70" y="344.46" font-size="5.17" text-anchor="end" fill="#2a2a2a" textLength="26.30" lengthAdjust="spacingAndGlyphs" stroke="#2a2a2a" stroke-width="0.07">Dimension 1</text>
<text x="288.80" y="209.48" font-size="13" text-anchor="middle" fill="#000" font-weight="bold">D</text>
<text x="411.80" y="210.50" font-size="8.05" text-anchor="middle" fill="#1a1a1a" textLength="143.50" lengthAdjust="spacingAndGlyphs" stroke="#1a1a1a" stroke-width="0.22">pan-memory vs. central-memory T-cells</text>
<ellipse cx="360.8" cy="256.2" rx="38.8" ry="17.6" transform="rotate(45 360.8 256.2)" fill="#e6e7f0" stroke="#b8b8b8" stroke-width="0.8"/>
<ellipse cx="401.6" cy="254.8" rx="22.2" ry="18.3" transform="rotate(60 401.6 254.8)" fill="#f8edf5" stroke="#b8b8b8" stroke-width="0.8"/>
<line x1="396.7" y1="220" x2="333" y2="318.4" stroke="#333" stroke-width="1.0"/>
<path d="M314.2,216.2 V346.8 H510" fill="none" stroke="#111" stroke-width="1.4"/>
<line x1="311.7" y1="218.2" x2="314.2" y2="218.2" stroke="#111" stroke-width="0.9"/>
<line x1="311.7" y1="232.5" x2="314.2" y2="232.5" stroke="#111" stroke-width="0.9"/>
<text x="308.20" y="234.92" font-size="6.16" text-anchor="end" fill="#2a2a2a" textLength="3.11" lengthAdjust="spacingAndGlyphs" stroke="#2a2a2a" stroke-width="0.07">4</text>
<line x1="311.7" y1="261.0" x2="314.2" y2="261.0" stroke="#111" stroke-width="0.9"/>
<text x="308.20" y="263.42" font-size="6.16" text-anchor="end" fill="#2a2a2a" textLength="3.11" lengthAdjust="spacingAndGlyphs" stroke="#2a2a2a" stroke-width="0.07">2</text>
<line x1="311.7" y1="289.5" x2="314.2" y2="289.5" stroke="#111" stroke-width="0.9"/>
<text x="308.20" y="291.92" font-size="6.16" text-anchor="end" fill="#2a2a2a" textLength="3.11" lengthAdjust="spacingAndGlyphs" stroke="#2a2a2a" stroke-width="0.07">0</text>
<line x1="311.7" y1="318.0" x2="314.2" y2="318.0" stroke="#111" stroke-width="0.9"/>
<text x="308.20" y="320.42" font-size="6.16" text-anchor="end" fill="#2a2a2a" textLength="4.98" lengthAdjust="spacingAndGlyphs" stroke="#2a2a2a" stroke-width="0.07">-2</text>
<line x1="311.7" y1="346.6" x2="314.2" y2="346.6" stroke="#111" stroke-width="0.9"/>
<text x="308.20" y="349.02" font-size="6.16" text-anchor="end" fill="#2a2a2a" textLength="4.98" lengthAdjust="spacingAndGlyphs" stroke="#2a2a2a" stroke-width="0.07">-4</text>
<line x1="314.2" y1="346.8" x2="314.2" y2="349.40000000000003" stroke="#111" stroke-width="0.9"/>
<line x1="361.2" y1="346.8" x2="361.2" y2="349.40000000000003" stroke="#111" stroke-width="0.9"/>
<text x="361.20" y="358.22" font-size="6.16" text-anchor="middle" fill="#2a2a2a" textLength="4.98" lengthAdjust="spacingAndGlyphs" stroke="#2a2a2a" stroke-width="0.07">-2</text>
<line x1="410.2" y1="346.8" x2="410.2" y2="349.40000000000003" stroke="#111" stroke-width="0.9"/>
<text x="410.20" y="358.22" font-size="6.16" text-anchor="middle" fill="#2a2a2a" textLength="3.11" lengthAdjust="spacingAndGlyphs" stroke="#2a2a2a" stroke-width="0.07">0</text>
<line x1="457.5" y1="346.8" x2="457.5" y2="349.40000000000003" stroke="#111" stroke-width="0.9"/>
<text x="457.50" y="358.22" font-size="6.16" text-anchor="middle" fill="#2a2a2a" textLength="3.11" lengthAdjust="spacingAndGlyphs" stroke="#2a2a2a" stroke-width="0.07">2</text>
<line x1="506.5" y1="346.8" x2="506.5" y2="349.40000000000003" stroke="#111" stroke-width="0.9"/>
<rect x="333.95" y="269.95" width="2.6" height="2.6" rx="0.45" fill="#b3121f"/><rect x="387.45" y="285.20" width="2.6" height="2.6" rx="0.45" fill="#b3121f"/><rect x="385.45" y="287.70" width="2.6" height="2.6" rx="0.45" fill="#b3121f"/><rect x="386.95" y="288.70" width="2.6" height="2.6" rx="0.45" fill="#b3121f"/><rect x="369.45" y="288.70" width="2.6" height="2.6" rx="0.45" fill="#b3121f"/><rect x="363.70" y="294.70" width="2.6" height="2.6" rx="0.45" fill="#b3121f"/><rect x="371.70" y="293.20" width="2.6" height="2.6" rx="0.45" fill="#b3121f"/><rect x="350.70" y="300.95" width="2.6" height="2.6" rx="0.45" fill="#b3121f"/><rect x="358.20" y="300.70" width="2.6" height="2.6" rx="0.45" fill="#b3121f"/><rect x="380.95" y="299.45" width="2.6" height="2.6" rx="0.45" fill="#b3121f"/><rect x="362.20" y="315.45" width="2.6" height="2.6" rx="0.45" fill="#b3121f"/><rect x="359.70" y="317.70" width="2.6" height="2.6" rx="0.45" fill="#b3121f"/><rect x="368.95" y="319.20" width="2.6" height="2.6" rx="0.45" fill="#b3121f"/><rect x="352.95" y="321.45" width="2.6" height="2.6" rx="0.45" fill="#b3121f"/><rect x="378.20" y="321.95" width="2.6" height="2.6" rx="0.45" fill="#b3121f"/><rect x="376.20" y="312.20" width="2.6" height="2.6" rx="0.45" fill="#b3121f"/><rect x="427.45" y="263.20" width="2.6" height="2.6" rx="0.45" fill="#b3121f"/><rect x="420.45" y="271.45" width="2.6" height="2.6" rx="0.45" fill="#b3121f"/><rect x="456.45" y="268.45" width="2.6" height="2.6" rx="0.45" fill="#b3121f"/><rect x="446.45" y="271.70" width="2.6" height="2.6" rx="0.45" fill="#b3121f"/><rect x="461.20" y="273.20" width="2.6" height="2.6" rx="0.45" fill="#b3121f"/><rect x="454.20" y="274.95" width="2.6" height="2.6" rx="0.45" fill="#b3121f"/><rect x="428.70" y="278.70" width="2.6" height="2.6" rx="0.45" fill="#b3121f"/><rect x="451.20" y="280.70" width="2.6" height="2.6" rx="0.45" fill="#b3121f"/><rect x="434.20" y="283.95" width="2.6" height="2.6" rx="0.45" fill="#b3121f"/><rect x="437.70" y="283.20" width="2.6" height="2.6" rx="0.45" fill="#b3121f"/><rect x="477.45" y="281.95" width="2.6" height="2.6" rx="0.45" fill="#b3121f"/><rect x="479.95" y="282.95" width="2.6" height="2.6" rx="0.45" fill="#b3121f"/><rect x="419.70" y="285.20" width="2.6" height="2.6" rx="0.45" fill="#b3121f"/><rect x="419.20" y="287.70" width="2.6" height="2.6" rx="0.45" fill="#b3121f"/><rect x="439.20" y="287.95" width="2.6" height="2.6" rx="0.45" fill="#b3121f"/><rect x="475.20" y="285.95" width="2.6" height="2.6" rx="0.45" fill="#b3121f"/><rect x="482.20" y="286.95" width="2.6" height="2.6" rx="0.45" fill="#b3121f"/><rect x="482.20" y="289.45" width="2.6" height="2.6" rx="0.45" fill="#b3121f"/><rect x="493.70" y="288.20" width="2.6" height="2.6" rx="0.45" fill="#b3121f"/><rect x="395.70" y="290.95" width="2.6" height="2.6" rx="0.45" fill="#b3121f"/><rect x="446.20" y="291.70" width="2.6" height="2.6" rx="0.45" fill="#b3121f"/><rect x="435.20" y="294.20" width="2.6" height="2.6" rx="0.45" fill="#b3121f"/><rect x="462.70" y="293.20" width="2.6" height="2.6" rx="0.45" fill="#b3121f"/><rect x="483.20" y="294.95" width="2.6" height="2.6" rx="0.45" fill="#b3121f"/><rect x="492.70" y="294.20" width="2.6" height="2.6" rx="0.45" fill="#b3121f"/><rect x="406.95" y="296.70" width="2.6" height="2.6" rx="0.45" fill="#b3121f"/><rect x="419.20" y="296.45" width="2.6" height="2.6" rx="0.45" fill="#b3121f"/><rect x="443.70" y="297.45" width="2.6" height="2.6" rx="0.45" fill="#b3121f"/><rect x="390.70" y="301.70" width="2.6" height="2.6" rx="0.45" fill="#b3121f"/><rect x="397.95" y="302.95" width="2.6" height="2.6" rx="0.45" fill="#b3121f"/><rect x="426.95" y="301.45" width="2.6" height="2.6" rx="0.45" fill="#b3121f"/><rect x="463.20" y="302.95" width="2.6" height="2.6" rx="0.45" fill="#b3121f"/><rect x="472.95" y="304.20" width="2.6" height="2.6" rx="0.45" fill="#b3121f"/><rect x="488.45" y="305.45" width="2.6" height="2.6" rx="0.45" fill="#b3121f"/><rect x="393.70" y="307.45" width="2.6" height="2.6" rx="0.45" fill="#b3121f"/><rect x="404.20" y="309.70" width="2.6" height="2.6" rx="0.45" fill="#b3121f"/><rect x="450.95" y="307.45" width="2.6" height="2.6" rx="0.45" fill="#b3121f"/><rect x="469.45" y="308.20" width="2.6" height="2.6" rx="0.45" fill="#b3121f"/><rect x="455.20" y="310.70" width="2.6" height="2.6" rx="0.45" fill="#b3121f"/><rect x="423.95" y="313.70" width="2.6" height="2.6" rx="0.45" fill="#b3121f"/><rect x="427.20" y="314.70" width="2.6" height="2.6" rx="0.45" fill="#b3121f"/><rect x="461.20" y="316.20" width="2.6" height="2.6" rx="0.45" fill="#b3121f"/><rect x="396.20" y="319.45" width="2.6" height="2.6" rx="0.45" fill="#b3121f"/><rect x="375.20" y="325.70" width="2.6" height="2.6" rx="0.45" fill="#b3121f"/><rect x="384.20" y="322.95" width="2.6" height="2.6" rx="0.45" fill="#b3121f"/><rect x="416.20" y="324.95" width="2.6" height="2.6" rx="0.45" fill="#b3121f"/><rect x="408.20" y="327.20" width="2.6" height="2.6" rx="0.45" fill="#b3121f"/><rect x="399.20" y="328.70" width="2.6" height="2.6" rx="0.45" fill="#b3121f"/><rect x="413.70" y="329.95" width="2.6" height="2.6" rx="0.45" fill="#b3121f"/><rect x="398.70" y="331.70" width="2.6" height="2.6" rx="0.45" fill="#b3121f"/><rect x="404.20" y="334.20" width="2.6" height="2.6" rx="0.45" fill="#b3121f"/><rect x="417.95" y="335.45" width="2.6" height="2.6" rx="0.45" fill="#b3121f"/>
<path d="M348.95,231.50 L349.97,230.72 L350.75,229.70 L351.53,230.72 L352.55,231.50 L351.53,232.28 L350.75,233.30 L349.97,232.28 Z" fill="#2f4f96"/><path d="M348.95,237.75 L349.97,236.97 L350.75,235.95 L351.53,236.97 L352.55,237.75 L351.53,238.53 L350.75,239.55 L349.97,238.53 Z" fill="#2f4f96"/><path d="M350.95,237.25 L351.97,236.47 L352.75,235.45 L353.53,236.47 L354.55,237.25 L353.53,238.03 L352.75,239.05 L351.97,238.03 Z" fill="#2f4f96"/><path d="M354.95,240.50 L355.97,239.72 L356.75,238.70 L357.53,239.72 L358.55,240.50 L357.53,241.28 L356.75,242.30 L355.97,241.28 Z" fill="#2f4f96"/><path d="M359.70,240.75 L360.72,239.97 L361.50,238.95 L362.28,239.97 L363.30,240.75 L362.28,241.53 L361.50,242.55 L360.72,241.53 Z" fill="#2f4f96"/><path d="M335.20,245.25 L336.22,244.47 L337.00,243.45 L337.78,244.47 L338.80,245.25 L337.78,246.03 L337.00,247.05 L336.22,246.03 Z" fill="#2f4f96"/><path d="M334.95,249.75 L335.97,248.97 L336.75,247.95 L337.53,248.97 L338.55,249.75 L337.53,250.53 L336.75,251.55 L335.97,250.53 Z" fill="#2f4f96"/><path d="M342.45,247.75 L343.47,246.97 L344.25,245.95 L345.03,246.97 L346.05,247.75 L345.03,248.53 L344.25,249.55 L343.47,248.53 Z" fill="#2f4f96"/><path d="M369.70,250.50 L370.72,249.72 L371.50,248.70 L372.28,249.72 L373.30,250.50 L372.28,251.28 L371.50,252.30 L370.72,251.28 Z" fill="#2f4f96"/><path d="M383.95,266.00 L384.97,265.22 L385.75,264.20 L386.53,265.22 L387.55,266.00 L386.53,266.78 L385.75,267.80 L384.97,266.78 Z" fill="#2f4f96"/>
<path d="M384.50,251.10 L386.18,253.25 L384.50,255.40 L382.82,253.25 Z" fill="#d4106f"/><path d="M390.50,258.60 L392.18,260.75 L390.50,262.90 L388.82,260.75 Z" fill="#d4106f"/><path d="M397.00,269.35 L398.68,271.50 L397.00,273.65 L395.32,271.50 Z" fill="#d4106f"/><path d="M403.25,247.10 L404.93,249.25 L403.25,251.40 L401.57,249.25 Z" fill="#d4106f"/><path d="M402.25,253.10 L403.93,255.25 L402.25,257.40 L400.57,255.25 Z" fill="#d4106f"/><path d="M407.00,254.85 L408.68,257.00 L407.00,259.15 L405.32,257.00 Z" fill="#d4106f"/><path d="M411.50,250.35 L413.18,252.50 L411.50,254.65 L409.82,252.50 Z" fill="#d4106f"/><path d="M415.25,249.85 L416.93,252.00 L415.25,254.15 L413.57,252.00 Z" fill="#d4106f"/><path d="M403.50,260.35 L405.18,262.50 L403.50,264.65 L401.82,262.50 Z" fill="#d4106f"/><path d="M410.50,265.35 L412.18,267.50 L410.50,269.65 L408.82,267.50 Z" fill="#d4106f"/>
<rect x="426.85" y="224.05" width="3.9" height="3.9" rx="0.45" fill="#b3121f"/>
<text x="433.80" y="228.02" font-size="5.61" text-anchor="start" fill="#2a2a2a" textLength="25.80" lengthAdjust="spacingAndGlyphs" stroke="#2a2a2a" stroke-width="0.07">T-PLL (<tspan font-style="italic">n</tspan>=70)</text>
<path d="M426.10,235.50 H431.50 M428.80,232.80 V238.20" stroke="#2f4f96" stroke-width="1.7" fill="none"/>
<text x="433.80" y="237.52" font-size="5.61" text-anchor="start" fill="#2a2a2a" textLength="71.70" lengthAdjust="spacingAndGlyphs" stroke="#2a2a2a" stroke-width="0.07">healthy pan-memory T-cells (<tspan font-style="italic">n</tspan>=10)</text>
<path d="M428.80,242.10 L431.06,245.00 L428.80,247.90 L426.54,245.00 Z" fill="#d4106f"/>
<text x="433.80" y="247.02" font-size="5.61" text-anchor="start" fill="#2a2a2a" textLength="78.70" lengthAdjust="spacingAndGlyphs" stroke="#2a2a2a" stroke-width="0.07">healthy central-memory T-cells (<tspan font-style="italic">n</tspan>=10)</text>
<text x="319.20" y="234.36" font-size="5.17" text-anchor="middle" fill="#2a2a2a" textLength="26.30" lengthAdjust="spacingAndGlyphs" transform="rotate(-90 319.20 232.50)" stroke="#2a2a2a" stroke-width="0.07">Dimension 2</text>
<text x="506.80" y="344.16" font-size="5.17" text-anchor="end" fill="#2a2a2a" textLength="26.30" lengthAdjust="spacingAndGlyphs" stroke="#2a2a2a" stroke-width="0.07">Dimension 1</text>
<text x="11.70" y="384.18" font-size="13" text-anchor="middle" fill="#000" font-weight="bold" textLength="8.20" lengthAdjust="spacingAndGlyphs">E</text>
<text x="143.90" y="385.08" font-size="8.0" text-anchor="middle" fill="#111" textLength="149.50" lengthAdjust="spacingAndGlyphs" stroke="#111" stroke-width="0.22">T-cells vs. T-PLL vs. T/NK-cell lymphomas</text>
<path d="M32.5,390.4 V539.4 H254.6" fill="none" stroke="#111" stroke-width="1.4"/>
<line x1="30.0" y1="393.2" x2="32.5" y2="393.2" stroke="#111" stroke-width="0.9"/>
<text x="26.50" y="395.62" font-size="6.16" text-anchor="end" fill="#2a2a2a" textLength="3.11" lengthAdjust="spacingAndGlyphs" stroke="#2a2a2a" stroke-width="0.07">8</text>
<line x1="30.0" y1="429.9" x2="32.5" y2="429.9" stroke="#111" stroke-width="0.9"/>
<text x="26.50" y="432.32" font-size="6.16" text-anchor="end" fill="#2a2a2a" textLength="3.11" lengthAdjust="spacingAndGlyphs" stroke="#2a2a2a" stroke-width="0.07">6</text>
<line x1="30.0" y1="466.2" x2="32.5" y2="466.2" stroke="#111" stroke-width="0.9"/>
<text x="26.50" y="468.62" font-size="6.16" text-anchor="end" fill="#2a2a2a" textLength="3.11" lengthAdjust="spacingAndGlyphs" stroke="#2a2a2a" stroke-width="0.07">4</text>
<line x1="30.0" y1="502.8" x2="32.5" y2="502.8" stroke="#111" stroke-width="0.9"/>
<text x="26.50" y="505.22" font-size="6.16" text-anchor="end" fill="#2a2a2a" textLength="3.11" lengthAdjust="spacingAndGlyphs" stroke="#2a2a2a" stroke-width="0.07">2</text>
<line x1="30.0" y1="539.4" x2="32.5" y2="539.4" stroke="#111" stroke-width="0.9"/>
<text x="26.50" y="541.82" font-size="6.16" text-anchor="end" fill="#2a2a2a" textLength="3.11" lengthAdjust="spacingAndGlyphs" stroke="#2a2a2a" stroke-width="0.07">0</text>
<line x1="32.4" y1="539.4" x2="32.4" y2="542.0" stroke="#111" stroke-width="0.9"/>
<line x1="114.6" y1="539.4" x2="114.6" y2="542.0" stroke="#111" stroke-width="0.9"/>
<text x="114.60" y="550.82" font-size="6.16" text-anchor="middle" fill="#2a2a2a" textLength="3.11" lengthAdjust="spacingAndGlyphs" stroke="#2a2a2a" stroke-width="0.07">5</text>
<line x1="252.1" y1="539.4" x2="252.1" y2="542.0" stroke="#111" stroke-width="0.9"/>
<text x="252.10" y="550.82" font-size="6.16" text-anchor="middle" fill="#2a2a2a" textLength="6.23" lengthAdjust="spacingAndGlyphs" stroke="#2a2a2a" stroke-width="0.07">10</text>
<ellipse cx="145.4" cy="494.2" rx="35" ry="32.6" fill="#f5e4e2" stroke="#b4b4b4" stroke-width="0.8"/>
<ellipse cx="185.5" cy="517.0" rx="9.4" ry="10.2" transform="rotate(-25 185.5 517)" fill="#e6e8f2" stroke="#b4b4b4" stroke-width="0.8"/>
<ellipse cx="194.3" cy="504.4" rx="11.3" ry="8.2" fill="#f7ecf5" stroke="#b4b4b4" stroke-width="0.8"/>
<ellipse cx="219.3" cy="504.6" rx="10.9" ry="10.4" fill="#fdf3e4" stroke="#b4b4b4" stroke-width="0.8"/>
<circle cx="98.25" cy="425.75" r="1.6" fill="#a6b96f"/><circle cx="83.75" cy="444.75" r="1.6" fill="#a6b96f"/><circle cx="74.75" cy="453.00" r="1.6" fill="#a6b96f"/><circle cx="80.25" cy="455.50" r="1.6" fill="#a6b96f"/><circle cx="62.00" cy="453.75" r="1.6" fill="#a6b96f"/><circle cx="59.50" cy="458.25" r="1.6" fill="#a6b96f"/><circle cx="56.50" cy="461.25" r="1.6" fill="#a6b96f"/><circle cx="70.75" cy="458.75" r="1.6" fill="#a6b96f"/><circle cx="72.50" cy="461.25" r="1.6" fill="#a6b96f"/><circle cx="67.75" cy="464.50" r="1.6" fill="#a6b96f"/><circle cx="65.75" cy="466.50" r="1.6" fill="#a6b96f"/><circle cx="92.50" cy="465.25" r="1.6" fill="#a6b96f"/><circle cx="60.00" cy="469.25" r="1.6" fill="#a6b96f"/><circle cx="65.50" cy="470.00" r="1.6" fill="#a6b96f"/><circle cx="67.00" cy="472.00" r="1.6" fill="#a6b96f"/><circle cx="68.25" cy="473.00" r="1.6" fill="#a6b96f"/><circle cx="80.50" cy="474.25" r="1.6" fill="#a6b96f"/><circle cx="83.25" cy="475.00" r="1.6" fill="#a6b96f"/><circle cx="72.75" cy="480.25" r="1.6" fill="#a6b96f"/><circle cx="113.00" cy="482.00" r="1.6" fill="#a6b96f"/>
<circle cx="86.00" cy="443.75" r="1.6" fill="#4dab2a"/><circle cx="79.50" cy="452.00" r="1.6" fill="#4dab2a"/><circle cx="68.75" cy="455.75" r="1.6" fill="#4dab2a"/><circle cx="90.25" cy="453.25" r="1.6" fill="#4dab2a"/><circle cx="104.50" cy="455.00" r="1.6" fill="#4dab2a"/><circle cx="103.00" cy="456.50" r="1.6" fill="#4dab2a"/><circle cx="95.75" cy="457.25" r="1.6" fill="#4dab2a"/><circle cx="67.50" cy="461.50" r="1.6" fill="#4dab2a"/><circle cx="66.25" cy="464.50" r="1.6" fill="#4dab2a"/><circle cx="74.25" cy="470.00" r="1.6" fill="#4dab2a"/><circle cx="78.00" cy="469.50" r="1.6" fill="#4dab2a"/><circle cx="71.00" cy="473.00" r="1.6" fill="#4dab2a"/><circle cx="78.25" cy="473.25" r="1.6" fill="#4dab2a"/><circle cx="101.50" cy="470.75" r="1.6" fill="#4dab2a"/><circle cx="102.50" cy="474.50" r="1.6" fill="#4dab2a"/><circle cx="94.50" cy="475.00" r="1.6" fill="#4dab2a"/><circle cx="96.25" cy="476.75" r="1.6" fill="#4dab2a"/><circle cx="112.50" cy="465.75" r="1.6" fill="#4dab2a"/><circle cx="125.07" cy="450.30" r="1.6" fill="#4dab2a"/>
<circle cx="120.50" cy="414.50" r="1.6" fill="#8c84d4"/><circle cx="122.50" cy="413.50" r="1.6" fill="#8c84d4"/><circle cx="78.25" cy="419.00" r="1.6" fill="#8c84d4"/><circle cx="99.50" cy="422.25" r="1.6" fill="#8c84d4"/><circle cx="62.75" cy="424.00" r="1.6" fill="#8c84d4"/><circle cx="59.25" cy="428.25" r="1.6" fill="#8c84d4"/><circle cx="73.00" cy="429.50" r="1.6" fill="#8c84d4"/><circle cx="72.75" cy="432.50" r="1.6" fill="#8c84d4"/><circle cx="84.00" cy="425.75" r="1.6" fill="#8c84d4"/><circle cx="89.00" cy="429.50" r="1.6" fill="#8c84d4"/><circle cx="110.25" cy="428.25" r="1.6" fill="#8c84d4"/><circle cx="87.25" cy="437.50" r="1.6" fill="#8c84d4"/><circle cx="92.50" cy="437.50" r="1.6" fill="#8c84d4"/><circle cx="67.50" cy="440.50" r="1.6" fill="#8c84d4"/><circle cx="61.50" cy="449.00" r="1.6" fill="#8c84d4"/><circle cx="58.00" cy="453.25" r="1.6" fill="#8c84d4"/><circle cx="90.50" cy="445.75" r="1.6" fill="#8c84d4"/><circle cx="117.75" cy="441.50" r="1.6" fill="#8c84d4"/><circle cx="114.75" cy="452.50" r="1.6" fill="#8c84d4"/><circle cx="80.75" cy="461.00" r="1.6" fill="#8c84d4"/><circle cx="114.00" cy="464.25" r="1.6" fill="#8c84d4"/><circle cx="97.50" cy="481.25" r="1.6" fill="#8c84d4"/><circle cx="103.00" cy="485.75" r="1.6" fill="#8c84d4"/><circle cx="105.00" cy="487.50" r="1.6" fill="#8c84d4"/><circle cx="94.50" cy="490.00" r="1.6" fill="#8c84d4"/><circle cx="105.25" cy="492.75" r="1.6" fill="#8c84d4"/><circle cx="146.74" cy="406.15" r="1.6" fill="#8c84d4"/><circle cx="160.47" cy="423.38" r="1.6" fill="#8c84d4"/><circle cx="163.43" cy="443.43" r="1.6" fill="#8c84d4"/><circle cx="175.01" cy="450.16" r="1.6" fill="#8c84d4"/><circle cx="179.72" cy="455.95" r="1.6" fill="#8c84d4"/><circle cx="128.20" cy="471.78" r="1.6" fill="#8c84d4"/><circle cx="143.25" cy="470.22" r="1.6" fill="#8c84d4"/><circle cx="139.45" cy="474.90" r="1.6" fill="#8c84d4"/><circle cx="155.71" cy="473.69" r="1.6" fill="#8c84d4"/><circle cx="163.15" cy="467.63" r="1.6" fill="#8c84d4"/><circle cx="187.89" cy="486.14" r="1.6" fill="#8c84d4"/><circle cx="80.50" cy="497.00" r="1.6" fill="#8c84d4"/><circle cx="84.25" cy="493.75" r="1.6" fill="#8c84d4"/><circle cx="88.00" cy="497.50" r="1.6" fill="#8c84d4"/><circle cx="90.50" cy="497.00" r="1.6" fill="#8c84d4"/><circle cx="84.25" cy="502.50" r="1.6" fill="#8c84d4"/><circle cx="82.50" cy="496.25" r="1.6" fill="#8c84d4"/><circle cx="85.00" cy="500.00" r="1.6" fill="#8c84d4"/>
<circle cx="96.50" cy="433.50" r="1.6" fill="#b4600f"/><circle cx="101.00" cy="434.00" r="1.6" fill="#b4600f"/><circle cx="103.25" cy="431.75" r="1.6" fill="#b4600f"/><circle cx="105.00" cy="433.00" r="1.6" fill="#b4600f"/><circle cx="106.75" cy="437.25" r="1.6" fill="#b4600f"/><circle cx="110.00" cy="440.75" r="1.6" fill="#b4600f"/><circle cx="108.25" cy="442.50" r="1.6" fill="#b4600f"/><circle cx="111.50" cy="442.50" r="1.6" fill="#b4600f"/><circle cx="91.50" cy="443.75" r="1.6" fill="#b4600f"/><circle cx="94.50" cy="444.50" r="1.6" fill="#b4600f"/><circle cx="98.75" cy="447.50" r="1.6" fill="#b4600f"/><circle cx="100.00" cy="448.00" r="1.6" fill="#b4600f"/><circle cx="105.00" cy="446.75" r="1.6" fill="#b4600f"/><circle cx="108.50" cy="446.25" r="1.6" fill="#b4600f"/><circle cx="109.25" cy="449.25" r="1.6" fill="#b4600f"/><circle cx="111.75" cy="446.75" r="1.6" fill="#b4600f"/><circle cx="92.50" cy="447.50" r="1.6" fill="#b4600f"/><circle cx="106.75" cy="460.00" r="1.6" fill="#b4600f"/><circle cx="95.00" cy="467.00" r="1.6" fill="#b4600f"/><circle cx="136.51" cy="419.34" r="1.6" fill="#b4600f"/><circle cx="151.05" cy="419.88" r="1.6" fill="#b4600f"/><circle cx="122.11" cy="427.42" r="1.6" fill="#b4600f"/><circle cx="127.50" cy="430.38" r="1.6" fill="#b4600f"/><circle cx="144.32" cy="431.72" r="1.6" fill="#b4600f"/><circle cx="142.71" cy="433.34" r="1.6" fill="#b4600f"/><circle cx="155.09" cy="434.01" r="1.6" fill="#b4600f"/><circle cx="159.13" cy="435.36" r="1.6" fill="#b4600f"/><circle cx="169.22" cy="426.74" r="1.6" fill="#b4600f"/><circle cx="121.04" cy="436.16" r="1.6" fill="#b4600f"/><circle cx="141.90" cy="438.18" r="1.6" fill="#b4600f"/><circle cx="111.62" cy="440.74" r="1.6" fill="#b4600f"/><circle cx="148.63" cy="440.47" r="1.6" fill="#b4600f"/><circle cx="134.63" cy="442.09" r="1.6" fill="#b4600f"/><circle cx="170.57" cy="441.41" r="1.6" fill="#b4600f"/><circle cx="169.22" cy="442.49" r="1.6" fill="#b4600f"/><circle cx="128.17" cy="443.43" r="1.6" fill="#b4600f"/><circle cx="130.46" cy="443.57" r="1.6" fill="#b4600f"/><circle cx="120.77" cy="444.10" r="1.6" fill="#b4600f"/><circle cx="153.74" cy="442.89" r="1.6" fill="#b4600f"/><circle cx="110.00" cy="444.51" r="1.6" fill="#b4600f"/><circle cx="126.15" cy="448.28" r="1.6" fill="#b4600f"/><circle cx="131.80" cy="447.60" r="1.6" fill="#b4600f"/><circle cx="137.59" cy="447.60" r="1.6" fill="#b4600f"/><circle cx="141.36" cy="447.34" r="1.6" fill="#b4600f"/><circle cx="144.59" cy="448.82" r="1.6" fill="#b4600f"/><circle cx="153.07" cy="447.87" r="1.6" fill="#b4600f"/><circle cx="121.71" cy="449.49" r="1.6" fill="#b4600f"/><circle cx="155.36" cy="450.30" r="1.6" fill="#b4600f"/><circle cx="163.57" cy="449.22" r="1.6" fill="#b4600f"/><circle cx="117.81" cy="451.91" r="1.6" fill="#b4600f"/><circle cx="145.26" cy="450.97" r="1.6" fill="#b4600f"/><circle cx="166.26" cy="451.24" r="1.6" fill="#b4600f"/><circle cx="158.45" cy="452.58" r="1.6" fill="#b4600f"/><circle cx="161.55" cy="452.99" r="1.6" fill="#b4600f"/><circle cx="140.01" cy="452.99" r="1.6" fill="#b4600f"/><circle cx="165.59" cy="454.33" r="1.6" fill="#b4600f"/><circle cx="127.09" cy="454.60" r="1.6" fill="#b4600f"/><circle cx="175.95" cy="452.31" r="1.6" fill="#b4600f"/><circle cx="177.29" cy="452.58" r="1.6" fill="#b4600f"/><circle cx="179.31" cy="444.51" r="1.6" fill="#b4600f"/><circle cx="129.25" cy="458.24" r="1.6" fill="#b4600f"/><circle cx="137.32" cy="459.31" r="1.6" fill="#b4600f"/><circle cx="160.47" cy="458.91" r="1.6" fill="#b4600f"/><circle cx="173.53" cy="459.58" r="1.6" fill="#b4600f"/><circle cx="148.36" cy="459.99" r="1.6" fill="#b4600f"/><circle cx="187.00" cy="415.30" r="1.6" fill="#b4600f"/><circle cx="207.32" cy="417.32" r="1.6" fill="#b4600f"/><circle cx="199.25" cy="420.01" r="1.6" fill="#b4600f"/><circle cx="199.92" cy="421.36" r="1.6" fill="#b4600f"/><circle cx="218.76" cy="420.69" r="1.6" fill="#b4600f"/><circle cx="185.79" cy="424.99" r="1.6" fill="#b4600f"/><circle cx="217.95" cy="425.67" r="1.6" fill="#b4600f"/><circle cx="197.23" cy="426.61" r="1.6" fill="#b4600f"/><circle cx="190.36" cy="427.69" r="1.6" fill="#b4600f"/><circle cx="226.16" cy="428.36" r="1.6" fill="#b4600f"/><circle cx="221.72" cy="430.11" r="1.6" fill="#b4600f"/><circle cx="211.90" cy="431.32" r="1.6" fill="#b4600f"/><circle cx="226.84" cy="430.38" r="1.6" fill="#b4600f"/><circle cx="208.26" cy="432.80" r="1.6" fill="#b4600f"/><circle cx="223.07" cy="432.66" r="1.6" fill="#b4600f"/><circle cx="204.63" cy="433.74" r="1.6" fill="#b4600f"/><circle cx="202.88" cy="435.49" r="1.6" fill="#b4600f"/><circle cx="187.40" cy="440.07" r="1.6" fill="#b4600f"/><circle cx="222.80" cy="441.14" r="1.6" fill="#b4600f"/><circle cx="216.74" cy="442.09" r="1.6" fill="#b4600f"/><circle cx="181.35" cy="445.59" r="1.6" fill="#b4600f"/><circle cx="224.15" cy="445.18" r="1.6" fill="#b4600f"/><circle cx="193.46" cy="446.93" r="1.6" fill="#b4600f"/><circle cx="180.67" cy="449.22" r="1.6" fill="#b4600f"/><circle cx="207.99" cy="447.87" r="1.6" fill="#b4600f"/><circle cx="200.19" cy="450.57" r="1.6" fill="#b4600f"/><circle cx="215.67" cy="451.91" r="1.6" fill="#b4600f"/><circle cx="218.76" cy="453.26" r="1.6" fill="#b4600f"/><circle cx="194.80" cy="452.99" r="1.6" fill="#b4600f"/><circle cx="188.75" cy="456.35" r="1.6" fill="#b4600f"/><circle cx="187.81" cy="457.97" r="1.6" fill="#b4600f"/><circle cx="214.32" cy="458.64" r="1.6" fill="#b4600f"/><circle cx="138.58" cy="464.17" r="1.6" fill="#b4600f"/><circle cx="151.38" cy="463.65" r="1.6" fill="#b4600f"/><circle cx="155.02" cy="466.25" r="1.6" fill="#b4600f"/><circle cx="146.71" cy="467.46" r="1.6" fill="#b4600f"/><circle cx="170.93" cy="466.59" r="1.6" fill="#b4600f"/><circle cx="180.10" cy="463.13" r="1.6" fill="#b4600f"/><circle cx="185.99" cy="465.90" r="1.6" fill="#b4600f"/><circle cx="167.47" cy="468.32" r="1.6" fill="#b4600f"/><circle cx="184.26" cy="471.09" r="1.6" fill="#b4600f"/><circle cx="136.85" cy="476.63" r="1.6" fill="#b4600f"/><circle cx="178.20" cy="476.11" r="1.6" fill="#b4600f"/><circle cx="185.99" cy="474.90" r="1.6" fill="#b4600f"/><circle cx="157.61" cy="480.09" r="1.6" fill="#b4600f"/><circle cx="155.88" cy="484.93" r="1.6" fill="#b4600f"/><circle cx="192.50" cy="479.25" r="1.6" fill="#b4600f"/><circle cx="200.00" cy="482.50" r="1.6" fill="#b4600f"/><circle cx="196.75" cy="488.00" r="1.6" fill="#b4600f"/><circle cx="199.25" cy="488.00" r="1.6" fill="#b4600f"/>
<circle cx="127.00" cy="409.50" r="1.6" fill="#eeb211"/><circle cx="129.00" cy="422.50" r="1.6" fill="#eeb211"/><circle cx="117.50" cy="434.25" r="1.6" fill="#eeb211"/><circle cx="121.25" cy="436.25" r="1.6" fill="#eeb211"/><circle cx="122.00" cy="438.75" r="1.6" fill="#eeb211"/><circle cx="166.53" cy="399.83" r="1.6" fill="#eeb211"/><circle cx="175.55" cy="401.17" r="1.6" fill="#eeb211"/><circle cx="175.55" cy="403.06" r="1.6" fill="#eeb211"/><circle cx="156.16" cy="403.46" r="1.6" fill="#eeb211"/><circle cx="163.84" cy="403.86" r="1.6" fill="#eeb211"/><circle cx="164.78" cy="405.07" r="1.6" fill="#eeb211"/><circle cx="170.97" cy="405.75" r="1.6" fill="#eeb211"/><circle cx="150.38" cy="406.82" r="1.6" fill="#eeb211"/><circle cx="138.26" cy="410.46" r="1.6" fill="#eeb211"/><circle cx="150.38" cy="411.53" r="1.6" fill="#eeb211"/><circle cx="162.49" cy="411.27" r="1.6" fill="#eeb211"/><circle cx="165.18" cy="411.53" r="1.6" fill="#eeb211"/><circle cx="174.33" cy="409.78" r="1.6" fill="#eeb211"/><circle cx="178.64" cy="408.84" r="1.6" fill="#eeb211"/><circle cx="156.43" cy="413.55" r="1.6" fill="#eeb211"/><circle cx="157.11" cy="415.17" r="1.6" fill="#eeb211"/><circle cx="162.89" cy="414.63" r="1.6" fill="#eeb211"/><circle cx="174.87" cy="413.15" r="1.6" fill="#eeb211"/><circle cx="178.37" cy="412.21" r="1.6" fill="#eeb211"/><circle cx="140.82" cy="415.17" r="1.6" fill="#eeb211"/><circle cx="145.40" cy="416.24" r="1.6" fill="#eeb211"/><circle cx="148.90" cy="415.57" r="1.6" fill="#eeb211"/><circle cx="173.53" cy="417.86" r="1.6" fill="#eeb211"/><circle cx="169.22" cy="418.53" r="1.6" fill="#eeb211"/><circle cx="166.53" cy="419.61" r="1.6" fill="#eeb211"/><circle cx="177.29" cy="419.88" r="1.6" fill="#eeb211"/><circle cx="179.58" cy="417.32" r="1.6" fill="#eeb211"/><circle cx="131.53" cy="423.38" r="1.6" fill="#eeb211"/><circle cx="163.43" cy="423.24" r="1.6" fill="#eeb211"/><circle cx="165.18" cy="422.30" r="1.6" fill="#eeb211"/><circle cx="168.82" cy="421.90" r="1.6" fill="#eeb211"/><circle cx="175.14" cy="424.72" r="1.6" fill="#eeb211"/><circle cx="179.72" cy="426.61" r="1.6" fill="#eeb211"/><circle cx="150.78" cy="426.07" r="1.6" fill="#eeb211"/><circle cx="150.78" cy="428.36" r="1.6" fill="#eeb211"/><circle cx="156.43" cy="425.67" r="1.6" fill="#eeb211"/><circle cx="137.59" cy="428.63" r="1.6" fill="#eeb211"/><circle cx="167.87" cy="429.97" r="1.6" fill="#eeb211"/><circle cx="175.95" cy="431.32" r="1.6" fill="#eeb211"/><circle cx="156.03" cy="431.05" r="1.6" fill="#eeb211"/><circle cx="167.87" cy="433.34" r="1.6" fill="#eeb211"/><circle cx="170.57" cy="435.76" r="1.6" fill="#eeb211"/><circle cx="132.61" cy="433.74" r="1.6" fill="#eeb211"/><circle cx="160.07" cy="437.11" r="1.6" fill="#eeb211"/><circle cx="127.90" cy="438.72" r="1.6" fill="#eeb211"/><circle cx="140.28" cy="439.53" r="1.6" fill="#eeb211"/><circle cx="164.51" cy="439.13" r="1.6" fill="#eeb211"/><circle cx="165.85" cy="439.80" r="1.6" fill="#eeb211"/><circle cx="156.43" cy="442.22" r="1.6" fill="#eeb211"/><circle cx="168.14" cy="444.24" r="1.6" fill="#eeb211"/><circle cx="172.85" cy="446.53" r="1.6" fill="#eeb211"/><circle cx="192.38" cy="400.36" r="1.6" fill="#eeb211"/><circle cx="195.21" cy="401.84" r="1.6" fill="#eeb211"/><circle cx="186.73" cy="403.86" r="1.6" fill="#eeb211"/><circle cx="195.48" cy="404.40" r="1.6" fill="#eeb211"/><circle cx="204.90" cy="403.46" r="1.6" fill="#eeb211"/><circle cx="206.51" cy="403.73" r="1.6" fill="#eeb211"/><circle cx="183.63" cy="406.82" r="1.6" fill="#eeb211"/><circle cx="211.63" cy="406.55" r="1.6" fill="#eeb211"/><circle cx="209.61" cy="407.50" r="1.6" fill="#eeb211"/><circle cx="190.36" cy="407.90" r="1.6" fill="#eeb211"/><circle cx="189.42" cy="409.11" r="1.6" fill="#eeb211"/><circle cx="180.40" cy="408.84" r="1.6" fill="#eeb211"/><circle cx="200.19" cy="409.25" r="1.6" fill="#eeb211"/><circle cx="221.99" cy="410.46" r="1.6" fill="#eeb211"/><circle cx="198.17" cy="411.94" r="1.6" fill="#eeb211"/><circle cx="205.98" cy="411.27" r="1.6" fill="#eeb211"/><circle cx="206.51" cy="413.55" r="1.6" fill="#eeb211"/><circle cx="215.67" cy="412.48" r="1.6" fill="#eeb211"/><circle cx="220.65" cy="412.88" r="1.6" fill="#eeb211"/><circle cx="221.99" cy="414.50" r="1.6" fill="#eeb211"/><circle cx="221.45" cy="416.51" r="1.6" fill="#eeb211"/><circle cx="224.68" cy="417.86" r="1.6" fill="#eeb211"/><circle cx="222.66" cy="419.88" r="1.6" fill="#eeb211"/><circle cx="196.55" cy="420.96" r="1.6" fill="#eeb211"/><circle cx="202.21" cy="421.90" r="1.6" fill="#eeb211"/><circle cx="206.51" cy="421.63" r="1.6" fill="#eeb211"/><circle cx="182.02" cy="422.71" r="1.6" fill="#eeb211"/><circle cx="195.88" cy="423.65" r="1.6" fill="#eeb211"/><circle cx="228.18" cy="423.65" r="1.6" fill="#eeb211"/><circle cx="202.21" cy="425.40" r="1.6" fill="#eeb211"/><circle cx="203.96" cy="426.34" r="1.6" fill="#eeb211"/><circle cx="206.65" cy="425.40" r="1.6" fill="#eeb211"/><circle cx="210.69" cy="425.94" r="1.6" fill="#eeb211"/><circle cx="234.78" cy="426.07" r="1.6" fill="#eeb211"/><circle cx="219.97" cy="426.34" r="1.6" fill="#eeb211"/><circle cx="220.38" cy="427.69" r="1.6" fill="#eeb211"/><circle cx="228.18" cy="430.38" r="1.6" fill="#eeb211"/><circle cx="186.33" cy="435.09" r="1.6" fill="#eeb211"/><circle cx="206.65" cy="435.76" r="1.6" fill="#eeb211"/><circle cx="214.72" cy="436.84" r="1.6" fill="#eeb211"/><circle cx="183.36" cy="437.51" r="1.6" fill="#eeb211"/><circle cx="185.79" cy="437.11" r="1.6" fill="#eeb211"/><circle cx="189.83" cy="439.39" r="1.6" fill="#eeb211"/><circle cx="192.79" cy="439.53" r="1.6" fill="#eeb211"/><circle cx="204.63" cy="440.20" r="1.6" fill="#eeb211"/><circle cx="199.11" cy="441.41" r="1.6" fill="#eeb211"/><circle cx="216.34" cy="446.93" r="1.6" fill="#eeb211"/><circle cx="189.42" cy="448.95" r="1.6" fill="#eeb211"/><circle cx="196.55" cy="449.22" r="1.6" fill="#eeb211"/><circle cx="215.40" cy="451.24" r="1.6" fill="#eeb211"/>
<circle cx="203.25" cy="475.75" r="1.6" fill="#2b3a5c"/><circle cx="207.00" cy="473.75" r="1.6" fill="#2b3a5c"/><circle cx="209.25" cy="475.00" r="1.6" fill="#2b3a5c"/><circle cx="211.25" cy="476.25" r="1.6" fill="#2b3a5c"/><circle cx="204.25" cy="478.75" r="1.6" fill="#2b3a5c"/><circle cx="208.75" cy="479.25" r="1.6" fill="#2b3a5c"/><circle cx="198.00" cy="479.25" r="1.6" fill="#2b3a5c"/><circle cx="154.50" cy="462.00" r="1.6" fill="#2b3a5c"/><circle cx="161.25" cy="463.75" r="1.6" fill="#2b3a5c"/><circle cx="196.25" cy="469.25" r="1.6" fill="#2b3a5c"/><circle cx="170.97" cy="452.05" r="1.6" fill="#2b3a5c"/>
<circle cx="53.25" cy="406.00" r="1.6" fill="#3f0f63"/><circle cx="55.50" cy="403.50" r="1.6" fill="#3f0f63"/><circle cx="59.25" cy="403.00" r="1.6" fill="#3f0f63"/><circle cx="65.50" cy="403.25" r="1.6" fill="#3f0f63"/><circle cx="57.50" cy="407.50" r="1.6" fill="#3f0f63"/><circle cx="59.25" cy="408.00" r="1.6" fill="#3f0f63"/><circle cx="63.75" cy="408.25" r="1.6" fill="#3f0f63"/><circle cx="65.50" cy="407.50" r="1.6" fill="#3f0f63"/><circle cx="65.00" cy="414.50" r="1.6" fill="#3f0f63"/><circle cx="72.00" cy="409.50" r="1.6" fill="#3f0f63"/><circle cx="74.25" cy="407.50" r="1.6" fill="#3f0f63"/><circle cx="75.50" cy="409.50" r="1.6" fill="#3f0f63"/><circle cx="82.50" cy="409.25" r="1.6" fill="#3f0f63"/><circle cx="71.50" cy="413.00" r="1.6" fill="#3f0f63"/><circle cx="73.00" cy="414.25" r="1.6" fill="#3f0f63"/><circle cx="76.25" cy="413.00" r="1.6" fill="#3f0f63"/><circle cx="79.50" cy="415.50" r="1.6" fill="#3f0f63"/><circle cx="90.50" cy="412.50" r="1.6" fill="#3f0f63"/><circle cx="103.25" cy="412.50" r="1.6" fill="#3f0f63"/><circle cx="108.00" cy="414.00" r="1.6" fill="#3f0f63"/><circle cx="109.00" cy="422.00" r="1.6" fill="#3f0f63"/><circle cx="58.50" cy="446.25" r="1.6" fill="#3f0f63"/><circle cx="125.00" cy="453.25" r="1.6" fill="#3f0f63"/><circle cx="136.24" cy="414.50" r="1.6" fill="#3f0f63"/><circle cx="194.80" cy="445.18" r="1.6" fill="#3f0f63"/><circle cx="180.67" cy="455.95" r="1.6" fill="#3f0f63"/><circle cx="84.25" cy="498.25" r="1.6" fill="#3f0f63"/>
<rect x="119.83" y="475.18" width="2.9" height="2.9" rx="0.45" fill="#b40f2a"/><rect x="126.58" y="477.77" width="2.9" height="2.9" rx="0.45" fill="#b40f2a"/><rect x="168.62" y="472.24" width="2.9" height="2.9" rx="0.45" fill="#b40f2a"/><rect x="167.24" y="479.50" width="2.9" height="2.9" rx="0.45" fill="#b40f2a"/><rect x="168.62" y="480.02" width="2.9" height="2.9" rx="0.45" fill="#b40f2a"/><rect x="172.94" y="479.85" width="2.9" height="2.9" rx="0.45" fill="#b40f2a"/><rect x="174.67" y="478.64" width="2.9" height="2.9" rx="0.45" fill="#b40f2a"/><rect x="163.77" y="482.96" width="2.9" height="2.9" rx="0.45" fill="#b40f2a"/><rect x="164.29" y="486.08" width="2.9" height="2.9" rx="0.45" fill="#b40f2a"/><rect x="162.22" y="487.63" width="2.9" height="2.9" rx="0.45" fill="#b40f2a"/><rect x="154.43" y="488.15" width="2.9" height="2.9" rx="0.45" fill="#b40f2a"/><rect x="147.51" y="484.69" width="2.9" height="2.9" rx="0.45" fill="#b40f2a"/><rect x="144.74" y="485.90" width="2.9" height="2.9" rx="0.45" fill="#b40f2a"/><rect x="140.94" y="486.77" width="2.9" height="2.9" rx="0.45" fill="#b40f2a"/><rect x="140.07" y="488.15" width="2.9" height="2.9" rx="0.45" fill="#b40f2a"/><rect x="136.61" y="488.50" width="2.9" height="2.9" rx="0.45" fill="#b40f2a"/><rect x="130.90" y="488.15" width="2.9" height="2.9" rx="0.45" fill="#b40f2a"/><rect x="122.77" y="487.29" width="2.9" height="2.9" rx="0.45" fill="#b40f2a"/><rect x="122.77" y="491.61" width="2.9" height="2.9" rx="0.45" fill="#b40f2a"/><rect x="128.31" y="490.75" width="2.9" height="2.9" rx="0.45" fill="#b40f2a"/><rect x="130.04" y="491.27" width="2.9" height="2.9" rx="0.45" fill="#b40f2a"/><rect x="128.31" y="492.48" width="2.9" height="2.9" rx="0.45" fill="#b40f2a"/><rect x="150.45" y="490.75" width="2.9" height="2.9" rx="0.45" fill="#b40f2a"/><rect x="147.34" y="491.96" width="2.9" height="2.9" rx="0.45" fill="#b40f2a"/><rect x="153.05" y="492.48" width="2.9" height="2.9" rx="0.45" fill="#b40f2a"/><rect x="140.07" y="493.34" width="2.9" height="2.9" rx="0.45" fill="#b40f2a"/><rect x="144.40" y="494.21" width="2.9" height="2.9" rx="0.45" fill="#b40f2a"/><rect x="152.18" y="494.55" width="2.9" height="2.9" rx="0.45" fill="#b40f2a"/><rect x="160.83" y="494.21" width="2.9" height="2.9" rx="0.45" fill="#b40f2a"/><rect x="158.24" y="496.80" width="2.9" height="2.9" rx="0.45" fill="#b40f2a"/><rect x="119.83" y="495.42" width="2.9" height="2.9" rx="0.45" fill="#b40f2a"/><rect x="118.45" y="496.46" width="2.9" height="2.9" rx="0.45" fill="#b40f2a"/><rect x="117.24" y="498.19" width="2.9" height="2.9" rx="0.45" fill="#b40f2a"/><rect x="118.97" y="498.88" width="2.9" height="2.9" rx="0.45" fill="#b40f2a"/><rect x="114.99" y="500.26" width="2.9" height="2.9" rx="0.45" fill="#b40f2a"/><rect x="127.96" y="499.74" width="2.9" height="2.9" rx="0.45" fill="#b40f2a"/><rect x="136.96" y="500.61" width="2.9" height="2.9" rx="0.45" fill="#b40f2a"/><rect x="140.94" y="499.92" width="2.9" height="2.9" rx="0.45" fill="#b40f2a"/><rect x="145.61" y="500.61" width="2.9" height="2.9" rx="0.45" fill="#b40f2a"/><rect x="153.91" y="497.67" width="2.9" height="2.9" rx="0.45" fill="#b40f2a"/><rect x="160.49" y="498.88" width="2.9" height="2.9" rx="0.45" fill="#b40f2a"/><rect x="161.18" y="500.61" width="2.9" height="2.9" rx="0.45" fill="#b40f2a"/><rect x="153.91" y="501.13" width="2.9" height="2.9" rx="0.45" fill="#b40f2a"/><rect x="156.16" y="501.99" width="2.9" height="2.9" rx="0.45" fill="#b40f2a"/><rect x="118.45" y="504.07" width="2.9" height="2.9" rx="0.45" fill="#b40f2a"/><rect x="127.10" y="503.72" width="2.9" height="2.9" rx="0.45" fill="#b40f2a"/><rect x="154.78" y="503.72" width="2.9" height="2.9" rx="0.45" fill="#b40f2a"/><rect x="153.57" y="504.93" width="2.9" height="2.9" rx="0.45" fill="#b40f2a"/><rect x="129.35" y="506.66" width="2.9" height="2.9" rx="0.45" fill="#b40f2a"/><rect x="134.02" y="505.97" width="2.9" height="2.9" rx="0.45" fill="#b40f2a"/><rect x="134.36" y="507.70" width="2.9" height="2.9" rx="0.45" fill="#b40f2a"/><rect x="149.24" y="506.84" width="2.9" height="2.9" rx="0.45" fill="#b40f2a"/><rect x="159.62" y="508.05" width="2.9" height="2.9" rx="0.45" fill="#b40f2a"/><rect x="122.25" y="509.26" width="2.9" height="2.9" rx="0.45" fill="#b40f2a"/><rect x="125.02" y="510.30" width="2.9" height="2.9" rx="0.45" fill="#b40f2a"/><rect x="152.18" y="509.78" width="2.9" height="2.9" rx="0.45" fill="#b40f2a"/><rect x="130.21" y="511.51" width="2.9" height="2.9" rx="0.45" fill="#b40f2a"/><rect x="146.13" y="511.51" width="2.9" height="2.9" rx="0.45" fill="#b40f2a"/><rect x="131.42" y="513.76" width="2.9" height="2.9" rx="0.45" fill="#b40f2a"/><rect x="133.15" y="514.62" width="2.9" height="2.9" rx="0.45" fill="#b40f2a"/><rect x="144.40" y="514.45" width="2.9" height="2.9" rx="0.45" fill="#b40f2a"/><rect x="147.51" y="514.45" width="2.9" height="2.9" rx="0.45" fill="#b40f2a"/><rect x="142.67" y="515.83" width="2.9" height="2.9" rx="0.45" fill="#b40f2a"/><rect x="147.51" y="516.70" width="2.9" height="2.9" rx="0.45" fill="#b40f2a"/><rect x="134.54" y="518.08" width="2.9" height="2.9" rx="0.45" fill="#b40f2a"/><rect x="141.28" y="519.81" width="2.9" height="2.9" rx="0.45" fill="#b40f2a"/><rect x="139.21" y="520.68" width="2.9" height="2.9" rx="0.45" fill="#b40f2a"/><rect x="143.19" y="521.02" width="2.9" height="2.9" rx="0.45" fill="#b40f2a"/>
<path d="M187.00,501.25 L188.56,503.25 L187.00,505.25 L185.44,503.25 Z" fill="#d4106f"/><path d="M191.25,498.00 L192.81,500.00 L191.25,502.00 L189.69,500.00 Z" fill="#d4106f"/><path d="M191.75,500.50 L193.31,502.50 L191.75,504.50 L190.19,502.50 Z" fill="#d4106f"/><path d="M190.50,505.00 L192.06,507.00 L190.50,509.00 L188.94,507.00 Z" fill="#d4106f"/><path d="M195.00,504.25 L196.56,506.25 L195.00,508.25 L193.44,506.25 Z" fill="#d4106f"/><path d="M195.75,506.75 L197.31,508.75 L195.75,510.75 L194.19,508.75 Z" fill="#d4106f"/><path d="M199.25,503.00 L200.81,505.00 L199.25,507.00 L197.69,505.00 Z" fill="#d4106f"/><path d="M200.75,501.25 L202.31,503.25 L200.75,505.25 L199.19,503.25 Z" fill="#d4106f"/><path d="M192.50,508.00 L194.06,510.00 L192.50,512.00 L190.94,510.00 Z" fill="#d4106f"/><path d="M188.00,504.25 L189.56,506.25 L188.00,508.25 L186.44,506.25 Z" fill="#d4106f"/>
<path d="M184.35,510.00 L185.47,509.22 L186.25,508.10 L187.03,509.22 L188.15,510.00 L187.03,510.78 L186.25,511.90 L185.47,510.78 Z" fill="#2f4f96"/><path d="M187.35,516.25 L188.47,515.47 L189.25,514.35 L190.03,515.47 L191.15,516.25 L190.03,517.03 L189.25,518.15 L188.47,517.03 Z" fill="#2f4f96"/><path d="M188.10,518.00 L189.22,517.22 L190.00,516.10 L190.78,517.22 L191.90,518.00 L190.78,518.78 L190.00,519.90 L189.22,518.78 Z" fill="#2f4f96"/><path d="M181.85,520.50 L182.97,519.72 L183.75,518.60 L184.53,519.72 L185.65,520.50 L184.53,521.28 L183.75,522.40 L182.97,521.28 Z" fill="#2f4f96"/><path d="M183.85,521.25 L184.97,520.47 L185.75,519.35 L186.53,520.47 L187.65,521.25 L186.53,522.03 L185.75,523.15 L184.97,522.03 Z" fill="#2f4f96"/><path d="M185.60,522.50 L186.72,521.72 L187.50,520.60 L188.28,521.72 L189.40,522.50 L188.28,523.28 L187.50,524.40 L186.72,523.28 Z" fill="#2f4f96"/><path d="M186.85,523.25 L187.97,522.47 L188.75,521.35 L189.53,522.47 L190.65,523.25 L189.53,524.03 L188.75,525.15 L187.97,524.03 Z" fill="#2f4f96"/><path d="M179.35,520.00 L180.47,519.22 L181.25,518.10 L182.03,519.22 L183.15,520.00 L182.03,520.78 L181.25,521.90 L180.47,520.78 Z" fill="#2f4f96"/><path d="M185.10,520.00 L186.22,519.22 L187.00,518.10 L187.78,519.22 L188.90,520.00 L187.78,520.78 L187.00,521.90 L186.22,520.78 Z" fill="#2f4f96"/><path d="M188.60,517.00 L189.72,516.22 L190.50,515.10 L191.28,516.22 L192.40,517.00 L191.28,517.78 L190.50,518.90 L189.72,517.78 Z" fill="#2f4f96"/>
<path d="M211.95,501.06 L215.55,501.06 L213.75,504.21 Z" fill="#e58a12"/><path d="M213.70,501.81 L217.30,501.81 L215.50,504.96 Z" fill="#e58a12"/><path d="M214.95,500.56 L218.55,500.56 L216.75,503.71 Z" fill="#e58a12"/><path d="M217.45,501.06 L221.05,501.06 L219.25,504.21 Z" fill="#e58a12"/><path d="M215.70,504.06 L219.30,504.06 L217.50,507.21 Z" fill="#e58a12"/><path d="M217.45,506.06 L221.05,506.06 L219.25,509.21 Z" fill="#e58a12"/><path d="M218.95,506.56 L222.55,506.56 L220.75,509.71 Z" fill="#e58a12"/><path d="M220.70,505.56 L224.30,505.56 L222.50,508.71 Z" fill="#e58a12"/><path d="M221.95,504.81 L225.55,504.81 L223.75,507.96 Z" fill="#e58a12"/><path d="M219.45,505.56 L223.05,505.56 L221.25,508.71 Z" fill="#e58a12"/>
<path d="M36.00,519.00 L40.00,519.00 L38.00,522.50 Z" fill="#e58a12"/>
<text x="43.00" y="522.82" font-size="5.61" text-anchor="start" fill="#2a2a2a" textLength="56.50" lengthAdjust="spacingAndGlyphs" stroke="#2a2a2a" stroke-width="0.07">healthy naive T-cells (<tspan font-style="italic">n</tspan>=10)</text>
<path d="M35.70,526.90 H40.30 M38.00,524.60 V529.20" stroke="#5a78b8" stroke-width="1.6" fill="none"/>
<text x="43.00" y="528.82" font-size="5.61" text-anchor="start" fill="#2a2a2a" textLength="72.50" lengthAdjust="spacingAndGlyphs" stroke="#2a2a2a" stroke-width="0.07">healthy pan-memory T-cells (<tspan font-style="italic">n</tspan>=10)</text>
<path d="M38.00,530.70 L39.87,533.10 L38.00,535.50 L36.13,533.10 Z" fill="#a23aa8"/>
<text x="43.00" y="535.02" font-size="5.61" text-anchor="start" fill="#2a2a2a" textLength="78.70" lengthAdjust="spacingAndGlyphs" stroke="#2a2a2a" stroke-width="0.07">healthy central-memory T-cells (<tspan font-style="italic">n</tspan>=10)</text>
<circle cx="234.40" cy="482.70" r="1.9" fill="#eeb211"/>
<text x="239.60" y="484.73" font-size="5.64" text-anchor="start" fill="#2a2a2a" textLength="27.04" lengthAdjust="spacingAndGlyphs" stroke="#2a2a2a" stroke-width="0.07">AITL (<tspan font-style="italic">n</tspan>=116)</text>
<circle cx="234.40" cy="488.90" r="1.9" fill="#2b3a5c"/>
<text x="239.60" y="490.93" font-size="5.64" text-anchor="start" fill="#2a2a2a" textLength="25.73" lengthAdjust="spacingAndGlyphs" stroke="#2a2a2a" stroke-width="0.07">ATLL (<tspan font-style="italic">n</tspan>=14)</text>
<circle cx="234.40" cy="495.20" r="1.9" fill="#a6b96f"/>
<text x="239.60" y="497.23" font-size="5.64" text-anchor="start" fill="#2a2a2a" textLength="25.64" lengthAdjust="spacingAndGlyphs" stroke="#2a2a2a" stroke-width="0.07">NK/T (<tspan font-style="italic">n</tspan>=23)</text>
<circle cx="234.40" cy="501.40" r="1.9" fill="#4dab2a"/>
<text x="239.60" y="503.43" font-size="5.64" text-anchor="start" fill="#2a2a2a" textLength="33.22" lengthAdjust="spacingAndGlyphs" stroke="#2a2a2a" stroke-width="0.07">NK/T γ/δ (<tspan font-style="italic">n</tspan>=21)</text>
<circle cx="234.40" cy="507.70" r="1.9" fill="#8c84d4"/>
<text x="239.60" y="509.73" font-size="5.64" text-anchor="start" fill="#2a2a2a" textLength="46.99" lengthAdjust="spacingAndGlyphs" stroke="#2a2a2a" stroke-width="0.07">ALCL ALK neg. (<tspan font-style="italic">n</tspan>=48)</text>
<circle cx="234.40" cy="514.10" r="1.9" fill="#3f0f63"/>
<text x="239.60" y="516.13" font-size="5.64" text-anchor="start" fill="#2a2a2a" textLength="46.73" lengthAdjust="spacingAndGlyphs" stroke="#2a2a2a" stroke-width="0.07">ALCL ALK pos. (<tspan font-style="italic">n</tspan>=31)</text>
<circle cx="234.40" cy="520.40" r="1.9" fill="#b4600f"/>
<text x="239.60" y="522.43" font-size="5.64" text-anchor="start" fill="#2a2a2a" textLength="41.40" lengthAdjust="spacingAndGlyphs" stroke="#2a2a2a" stroke-width="0.07">PTCL-NOS (<tspan font-style="italic">n</tspan>=120)</text>
<rect x="232.80" y="524.70" width="3.2" height="3.2" rx="0.45" fill="#b40f2a"/>
<text x="239.60" y="528.33" font-size="5.64" text-anchor="start" fill="#2a2a2a" textLength="27.39" lengthAdjust="spacingAndGlyphs" stroke="#2a2a2a" stroke-width="0.07">T-PLL (<tspan font-style="italic">n</tspan>=77)</text>
<text x="37.60" y="410.16" font-size="5.17" text-anchor="middle" fill="#2a2a2a" textLength="26.30" lengthAdjust="spacingAndGlyphs" transform="rotate(-90 37.60 408.30)" stroke="#2a2a2a" stroke-width="0.07">Dimension 2</text>
<text x="252.00" y="537.26" font-size="5.17" text-anchor="end" fill="#2a2a2a" textLength="26.30" lengthAdjust="spacingAndGlyphs" stroke="#2a2a2a" stroke-width="0.07">Dimension 1</text>
<text x="288.30" y="384.38" font-size="13" text-anchor="middle" fill="#000" font-weight="bold">F</text>
<text x="405.00" y="385.32" font-size="8.1" text-anchor="middle" fill="#1a1a1a" textLength="151.00" lengthAdjust="spacingAndGlyphs" stroke="#1a1a1a" stroke-width="0.22">altered evolution of T-cell subsets in mice</text>
<path d="M325.8,407 V521.4 H485.5" fill="none" stroke="#111" stroke-width="1.5"/>
<line x1="322.6" y1="412.5" x2="325.8" y2="412.5" stroke="#111" stroke-width="0.9"/>
<text x="319.60" y="415.16" font-size="6.84" text-anchor="end" fill="#2a2a2a" textLength="9.68" lengthAdjust="spacingAndGlyphs" stroke="#2a2a2a" stroke-width="0.07">100</text>
<line x1="322.6" y1="434.3" x2="325.8" y2="434.3" stroke="#111" stroke-width="0.9"/>
<text x="319.60" y="436.96" font-size="6.84" text-anchor="end" fill="#2a2a2a" textLength="6.45" lengthAdjust="spacingAndGlyphs" stroke="#2a2a2a" stroke-width="0.07">80</text>
<line x1="322.6" y1="456.0" x2="325.8" y2="456.0" stroke="#111" stroke-width="0.9"/>
<text x="319.60" y="458.66" font-size="6.84" text-anchor="end" fill="#2a2a2a" textLength="6.45" lengthAdjust="spacingAndGlyphs" stroke="#2a2a2a" stroke-width="0.07">60</text>
<line x1="322.6" y1="477.8" x2="325.8" y2="477.8" stroke="#111" stroke-width="0.9"/>
<text x="319.60" y="480.46" font-size="6.84" text-anchor="end" fill="#2a2a2a" textLength="6.45" lengthAdjust="spacingAndGlyphs" stroke="#2a2a2a" stroke-width="0.07">40</text>
<line x1="322.6" y1="499.6" x2="325.8" y2="499.6" stroke="#111" stroke-width="0.9"/>
<text x="319.60" y="502.26" font-size="6.84" text-anchor="end" fill="#2a2a2a" textLength="6.45" lengthAdjust="spacingAndGlyphs" stroke="#2a2a2a" stroke-width="0.07">20</text>
<line x1="322.6" y1="521.4" x2="325.8" y2="521.4" stroke="#111" stroke-width="0.9"/>
<text x="319.60" y="524.06" font-size="6.84" text-anchor="end" fill="#2a2a2a" textLength="3.23" lengthAdjust="spacingAndGlyphs" stroke="#2a2a2a" stroke-width="0.07">0</text>
<line x1="331.2" y1="521.4" x2="331.2" y2="524.6" stroke="#111" stroke-width="0.9"/>
<line x1="342.7" y1="521.4" x2="342.7" y2="524.6" stroke="#111" stroke-width="0.9"/>
<line x1="354.2" y1="521.4" x2="354.2" y2="524.6" stroke="#111" stroke-width="0.9"/>
<line x1="365.8" y1="521.4" x2="365.8" y2="524.6" stroke="#111" stroke-width="0.9"/>
<line x1="388.6" y1="521.4" x2="388.6" y2="524.6" stroke="#111" stroke-width="0.9"/>
<line x1="399.6" y1="521.4" x2="399.6" y2="524.6" stroke="#111" stroke-width="0.9"/>
<line x1="411.2" y1="521.4" x2="411.2" y2="524.6" stroke="#111" stroke-width="0.9"/>
<line x1="422.5" y1="521.4" x2="422.5" y2="524.6" stroke="#111" stroke-width="0.9"/>
<line x1="445.0" y1="521.4" x2="445.0" y2="524.6" stroke="#111" stroke-width="0.9"/>
<line x1="456.3" y1="521.4" x2="456.3" y2="524.6" stroke="#111" stroke-width="0.9"/>
<line x1="468.0" y1="521.4" x2="468.0" y2="524.6" stroke="#111" stroke-width="0.9"/>
<line x1="479.5" y1="521.4" x2="479.5" y2="524.6" stroke="#111" stroke-width="0.9"/>
<text x="301.90" y="467.12" font-size="8.4" text-anchor="middle" fill="#2a2a2a" textLength="102.50" lengthAdjust="spacingAndGlyphs" transform="rotate(-90 301.90 464.10)" stroke="#2a2a2a" stroke-width="0.22">Phenotypic marker positive cells [%]</text>
<path d="M377.0,444 V546" stroke="#111" stroke-width="1.4" stroke-dasharray="3.4 2.2" fill="none"/>
<path d="M433.5,414.5 V546" stroke="#111" stroke-width="1.4" stroke-dasharray="3.4 2.2" fill="none"/>
<text x="348.20" y="402.69" font-size="4.7" text-anchor="end" fill="#111" font-weight="bold">young</text>
<path d="M351.3,396.2 V405.6" stroke="#111" stroke-width="0.9"/>
<text x="348.20" y="422.99" font-size="4.7" text-anchor="end" fill="#111" font-weight="bold">old</text>
<path d="M351.3,416.2 V426.4" stroke="#111" stroke-width="0.9"/>
<text x="385.40" y="398.18" font-size="5.23" text-anchor="end" fill="#2a2a2a" textLength="18.48" lengthAdjust="spacingAndGlyphs" stroke="#2a2a2a" stroke-width="0.07">wild type</text>
<text x="385.40" y="406.70" font-size="4.73" text-anchor="end" fill="#2a2a2a" font-style="italic" stroke="#2a2a2a" stroke-width="0.07">Lck<tspan font-size="2.8" dy="-1.5">pr</tspan><tspan dy="1.5">-hTCL1A</tspan><tspan font-size="2.8" dy="-1.5">tg</tspan></text>
<text x="385.40" y="418.18" font-size="5.23" text-anchor="end" fill="#2a2a2a" textLength="18.48" lengthAdjust="spacingAndGlyphs" stroke="#2a2a2a" stroke-width="0.07">wild type</text>
<text x="385.40" y="427.20" font-size="4.73" text-anchor="end" fill="#2a2a2a" font-style="italic" stroke="#2a2a2a" stroke-width="0.07">Lck<tspan font-size="2.8" dy="-1.5">pr</tspan><tspan dy="1.5">-hTCL1A</tspan><tspan font-size="2.8" dy="-1.5">tg</tspan></text>
<circle cx="391.40" cy="396.30" r="2.5" fill="#c5e3a6" stroke="#151515" stroke-width="0.95"/>
<path d="M388.60,402.36 L394.20,402.36 L391.40,407.40 Z" fill="#f2a08d" stroke="#151515" stroke-width="0.95" stroke-linejoin="round"/>
<circle cx="391.40" cy="416.60" r="2.5" fill="#60b238" stroke="#151515" stroke-width="0.95"/>
<path d="M388.60,422.76 L394.20,422.76 L391.40,427.80 Z" fill="#c4102c" stroke="#151515" stroke-width="0.95" stroke-linejoin="round"/>
<circle cx="327.69" cy="491.35" r="2.45" fill="#c5e3a6" stroke="#151515" stroke-width="0.95"/><circle cx="331.54" cy="493.27" r="2.45" fill="#c5e3a6" stroke="#151515" stroke-width="0.95"/><circle cx="327.69" cy="496.15" r="2.45" fill="#c5e3a6" stroke="#151515" stroke-width="0.95"/><circle cx="335.00" cy="497.88" r="2.45" fill="#c5e3a6" stroke="#151515" stroke-width="0.95"/><circle cx="331.54" cy="501.73" r="2.45" fill="#c5e3a6" stroke="#151515" stroke-width="0.95"/>
<path d="M326.40,496.00 H332.80" stroke="#111" stroke-width="1.05"/>
<path d="M336.15,488.61 L341.55,488.61 L338.85,493.47 Z" fill="#f2a08d" stroke="#151515" stroke-width="0.95" stroke-linejoin="round"/><path d="M339.99,485.15 L345.39,485.15 L342.69,490.01 Z" fill="#f2a08d" stroke="#151515" stroke-width="0.95" stroke-linejoin="round"/><path d="M343.07,485.92 L348.47,485.92 L345.77,490.78 Z" fill="#f2a08d" stroke="#151515" stroke-width="0.95" stroke-linejoin="round"/><path d="M340.38,493.99 L345.78,493.99 L343.08,498.85 Z" fill="#f2a08d" stroke="#151515" stroke-width="0.95" stroke-linejoin="round"/><path d="M344.42,493.61 L349.82,493.61 L347.12,498.47 Z" fill="#f2a08d" stroke="#151515" stroke-width="0.95" stroke-linejoin="round"/>
<path d="M339.50,492.40 H346.30" stroke="#111" stroke-width="1.05"/><path d="M342.90,490.20 V494.80 M341.30,490.20 H344.50 M341.30,494.80 H344.50" stroke="#111" stroke-width="0.95" fill="none"/>
<circle cx="354.23" cy="490.96" r="2.45" fill="#60b238" stroke="#151515" stroke-width="0.95"/><circle cx="350.00" cy="497.31" r="2.45" fill="#60b238" stroke="#151515" stroke-width="0.95"/><circle cx="354.23" cy="504.81" r="2.45" fill="#60b238" stroke="#151515" stroke-width="0.95"/><circle cx="358.08" cy="514.42" r="2.45" fill="#60b238" stroke="#151515" stroke-width="0.95"/><circle cx="354.23" cy="517.88" r="2.45" fill="#60b238" stroke="#151515" stroke-width="0.95"/>
<path d="M351.60,505.30 H356.80" stroke="#111" stroke-width="1.05"/><path d="M354.20,500.80 V510.40 M352.60,500.80 H355.80 M352.60,510.40 H355.80" stroke="#111" stroke-width="0.95" fill="none"/>
<path d="M358.65,519.35 L363.65,519.35 L361.15,523.85 Z" fill="#c4102c" stroke="#151515" stroke-width="0.95" stroke-linejoin="round"/><path d="M361.15,519.54 L366.15,519.54 L363.65,524.04 Z" fill="#c4102c" stroke="#151515" stroke-width="0.95" stroke-linejoin="round"/><path d="M363.65,519.54 L368.65,519.54 L366.15,524.04 Z" fill="#c4102c" stroke="#151515" stroke-width="0.95" stroke-linejoin="round"/><path d="M366.15,519.54 L371.15,519.54 L368.65,524.04 Z" fill="#c4102c" stroke="#151515" stroke-width="0.95" stroke-linejoin="round"/><path d="M368.46,519.15 L373.46,519.15 L370.96,523.65 Z" fill="#c4102c" stroke="#151515" stroke-width="0.95" stroke-linejoin="round"/>
<text x="354.60" y="477.02" font-size="5.06" text-anchor="middle" fill="#2a2a2a" textLength="19.82" lengthAdjust="spacingAndGlyphs" stroke="#2a2a2a" stroke-width="0.07">P&lt;0.0001</text><path d="M343.1,479.8 H366.3" stroke="#111" stroke-width="1.1"/>
<text x="359.60" y="465.62" font-size="5.06" text-anchor="middle" fill="#2a2a2a" textLength="14.71" lengthAdjust="spacingAndGlyphs" stroke="#2a2a2a" stroke-width="0.07">P=0.01</text><path d="M354.2,468.3 H365.8" stroke="#111" stroke-width="1.1"/>
<circle cx="384.42" cy="443.85" r="2.45" fill="#c5e3a6" stroke="#151515" stroke-width="0.95"/><circle cx="388.65" cy="444.62" r="2.45" fill="#c5e3a6" stroke="#151515" stroke-width="0.95"/><circle cx="383.85" cy="448.08" r="2.45" fill="#c5e3a6" stroke="#151515" stroke-width="0.95"/><circle cx="392.12" cy="449.04" r="2.45" fill="#c5e3a6" stroke="#151515" stroke-width="0.95"/><circle cx="388.27" cy="454.42" r="2.45" fill="#c5e3a6" stroke="#151515" stroke-width="0.95"/>
<path d="M384.80,447.60 H391.20" stroke="#111" stroke-width="1.05"/>
<path d="M396.72,443.99 L402.12,443.99 L399.42,448.85 Z" fill="#f2a08d" stroke="#151515" stroke-width="0.95" stroke-linejoin="round"/><path d="M392.30,449.76 L397.70,449.76 L395.00,454.62 Z" fill="#f2a08d" stroke="#151515" stroke-width="0.95" stroke-linejoin="round"/><path d="M399.61,448.80 L405.01,448.80 L402.31,453.66 Z" fill="#f2a08d" stroke="#151515" stroke-width="0.95" stroke-linejoin="round"/><path d="M396.72,453.61 L402.12,453.61 L399.42,458.47 Z" fill="#f2a08d" stroke="#151515" stroke-width="0.95" stroke-linejoin="round"/><path d="M401.53,453.03 L406.93,453.03 L404.23,457.89 Z" fill="#f2a08d" stroke="#151515" stroke-width="0.95" stroke-linejoin="round"/>
<path d="M396.40,452.00 H402.80" stroke="#111" stroke-width="1.05"/>
<circle cx="410.77" cy="442.69" r="2.45" fill="#60b238" stroke="#151515" stroke-width="0.95"/><circle cx="414.81" cy="449.04" r="2.45" fill="#60b238" stroke="#151515" stroke-width="0.95"/><circle cx="410.77" cy="454.04" r="2.45" fill="#60b238" stroke="#151515" stroke-width="0.95"/><circle cx="410.77" cy="468.08" r="2.45" fill="#60b238" stroke="#151515" stroke-width="0.95"/><circle cx="410.77" cy="488.27" r="2.45" fill="#60b238" stroke="#151515" stroke-width="0.95"/>
<path d="M407.20,460.60 H414.40" stroke="#111" stroke-width="1.05"/><path d="M410.80,456.60 V465.40 M409.20,456.60 H412.40 M409.20,465.40 H412.40" stroke="#111" stroke-width="0.95" fill="none"/>
<path d="M415.30,499.84 L420.70,499.84 L418.00,504.70 Z" fill="#c4102c" stroke="#151515" stroke-width="0.95" stroke-linejoin="round"/><path d="M420.30,500.24 L425.70,500.24 L423.00,505.10 Z" fill="#c4102c" stroke="#151515" stroke-width="0.95" stroke-linejoin="round"/><path d="M415.30,508.44 L420.70,508.44 L418.00,513.30 Z" fill="#c4102c" stroke="#151515" stroke-width="0.95" stroke-linejoin="round"/><path d="M424.30,510.24 L429.70,510.24 L427.00,515.10 Z" fill="#c4102c" stroke="#151515" stroke-width="0.95" stroke-linejoin="round"/><path d="M419.50,513.84 L424.90,513.84 L422.20,518.70 Z" fill="#c4102c" stroke="#151515" stroke-width="0.95" stroke-linejoin="round"/><path d="M419.50,508.64 L424.90,508.64 L422.20,513.50 Z" fill="#c4102c" stroke="#151515" stroke-width="0.95" stroke-linejoin="round"/>
<path d="M419.60,511.40 H424.80" stroke="#fff" stroke-width="1.05"/><path d="M422.20,507.60 V515.00 M420.70,507.60 H423.70 M420.70,515.00 H423.70" stroke="#fff" stroke-width="0.95" fill="none"/>
<text x="411.90" y="433.92" font-size="5.06" text-anchor="middle" fill="#2a2a2a" textLength="19.82" lengthAdjust="spacingAndGlyphs" stroke="#2a2a2a" stroke-width="0.07">P&lt;0.0001</text><path d="M400.8,436.5 H423.5" stroke="#111" stroke-width="1.1"/>
<text x="417.50" y="423.02" font-size="5.06" text-anchor="middle" fill="#2a2a2a" textLength="19.82" lengthAdjust="spacingAndGlyphs" stroke="#2a2a2a" stroke-width="0.07">P=0.0005</text><path d="M411.9,425.4 H423.5" stroke="#111" stroke-width="1.1"/>
<circle cx="441.80" cy="509.30" r="2.45" fill="#c5e3a6" stroke="#151515" stroke-width="0.95"/><circle cx="445.20" cy="508.60" r="2.45" fill="#c5e3a6" stroke="#151515" stroke-width="0.95"/><circle cx="447.60" cy="510.20" r="2.45" fill="#c5e3a6" stroke="#151515" stroke-width="0.95"/><circle cx="445.00" cy="514.60" r="2.45" fill="#c5e3a6" stroke="#151515" stroke-width="0.95"/><circle cx="442.60" cy="510.60" r="2.45" fill="#c5e3a6" stroke="#151515" stroke-width="0.95"/>
<path d="M453.60,501.64 L459.00,501.64 L456.30,506.50 Z" fill="#f2a08d" stroke="#151515" stroke-width="0.95" stroke-linejoin="round"/><path d="M449.80,509.14 L455.20,509.14 L452.50,514.00 Z" fill="#f2a08d" stroke="#151515" stroke-width="0.95" stroke-linejoin="round"/><path d="M453.60,510.84 L459.00,510.84 L456.30,515.70 Z" fill="#f2a08d" stroke="#151515" stroke-width="0.95" stroke-linejoin="round"/><path d="M457.80,509.84 L463.20,509.84 L460.50,514.70 Z" fill="#f2a08d" stroke="#151515" stroke-width="0.95" stroke-linejoin="round"/><path d="M454.90,508.24 L460.30,508.24 L457.60,513.10 Z" fill="#f2a08d" stroke="#151515" stroke-width="0.95" stroke-linejoin="round"/>
<circle cx="467.90" cy="449.90" r="2.45" fill="#60b238" stroke="#151515" stroke-width="0.95"/><circle cx="467.90" cy="472.70" r="2.45" fill="#60b238" stroke="#151515" stroke-width="0.95"/><circle cx="463.80" cy="508.30" r="2.45" fill="#60b238" stroke="#151515" stroke-width="0.95"/><circle cx="468.00" cy="510.00" r="2.45" fill="#60b238" stroke="#151515" stroke-width="0.95"/><circle cx="471.80" cy="509.30" r="2.45" fill="#60b238" stroke="#151515" stroke-width="0.95"/>
<path d="M464.30,490.00 H471.50" stroke="#111" stroke-width="1.05"/><path d="M467.90,477.60 V502.40 M466.20,477.60 H469.60 M466.20,502.40 H469.60" stroke="#111" stroke-width="0.95" fill="none"/>
<path d="M473.00,413.84 L478.40,413.84 L475.70,418.70 Z" fill="#c4102c" stroke="#151515" stroke-width="0.95" stroke-linejoin="round"/><path d="M476.50,412.84 L481.90,412.84 L479.20,417.70 Z" fill="#c4102c" stroke="#151515" stroke-width="0.95" stroke-linejoin="round"/><path d="M479.70,413.84 L485.10,413.84 L482.40,418.70 Z" fill="#c4102c" stroke="#151515" stroke-width="0.95" stroke-linejoin="round"/><path d="M474.60,418.84 L480.00,418.84 L477.30,423.70 Z" fill="#c4102c" stroke="#151515" stroke-width="0.95" stroke-linejoin="round"/><path d="M478.10,419.44 L483.50,419.44 L480.80,424.30 Z" fill="#c4102c" stroke="#151515" stroke-width="0.95" stroke-linejoin="round"/><path d="M480.80,418.84 L486.20,418.84 L483.50,423.70 Z" fill="#c4102c" stroke="#151515" stroke-width="0.95" stroke-linejoin="round"/>
<text x="468.10" y="406.02" font-size="5.06" text-anchor="middle" fill="#2a2a2a" textLength="19.82" lengthAdjust="spacingAndGlyphs" stroke="#2a2a2a" stroke-width="0.07">P&lt;0.0001</text><path d="M457.0,408.8 H478.6" stroke="#111" stroke-width="1.1"/>
<text x="473.80" y="395.02" font-size="5.06" text-anchor="middle" fill="#2a2a2a" textLength="19.82" lengthAdjust="spacingAndGlyphs" stroke="#2a2a2a" stroke-width="0.07">P=0.0004</text><path d="M468.1,397.5 H479.6" stroke="#111" stroke-width="1.1"/>
<text x="349.00" y="533.32" font-size="5.9" text-anchor="middle" fill="#111" font-weight="bold">naive</text>
<text x="349.00" y="540.86" font-size="6.27" text-anchor="middle" fill="#555" stroke="#555" stroke-width="0.07">CD3<tspan font-size="3.6" dy="-2.2">+</tspan><tspan dy="2.2">, CD44</tspan><tspan font-size="3.6" dy="-2.2">-</tspan><tspan dy="2.2">,</tspan></text><text x="349.00" y="548.26" font-size="6.27" text-anchor="middle" fill="#555" stroke="#555" stroke-width="0.07">CD62L<tspan font-size="3.6" dy="-2.2">+</tspan></text>
<text x="405.00" y="533.32" font-size="5.9" text-anchor="middle" fill="#111" font-weight="bold">central memory</text>
<text x="405.00" y="540.86" font-size="6.27" text-anchor="middle" fill="#555" stroke="#555" stroke-width="0.07">CD3<tspan font-size="3.6" dy="-2.2">+</tspan><tspan dy="2.2">, CD44</tspan><tspan font-size="3.6" dy="-2.2">+</tspan><tspan dy="2.2">,</tspan></text><text x="405.00" y="548.26" font-size="6.27" text-anchor="middle" fill="#555" stroke="#555" stroke-width="0.07">CD62L<tspan font-size="3.6" dy="-2.2">+</tspan></text>
<text x="462.30" y="533.32" font-size="5.9" text-anchor="middle" fill="#111" font-weight="bold">effector memory</text>
<text x="462.30" y="540.86" font-size="6.27" text-anchor="middle" fill="#555" stroke="#555" stroke-width="0.07">CD3<tspan font-size="3.6" dy="-2.2">+</tspan><tspan dy="2.2">, CD44</tspan><tspan font-size="3.6" dy="-2.2">+</tspan><tspan dy="2.2">,</tspan></text><text x="462.30" y="548.26" font-size="6.27" text-anchor="middle" fill="#555" stroke="#555" stroke-width="0.07">CD62L<tspan font-size="3.6" dy="-2.2">-</tspan></text>
<text x="161.00" y="576.68" font-size="13" text-anchor="middle" fill="#000" font-weight="bold">G</text>
<ellipse cx="238.75" cy="677.5" rx="70.5" ry="53.4" fill="#000" opacity="0.08"/>
<path d="M308.75,665.50 L308.65,668.27 L308.65,679.77 L308.75,677.00 Z" fill="#46637e" stroke="#46637e" stroke-width="0.3"/>
<path d="M308.65,668.27 L308.37,671.04 L308.37,682.54 L308.65,679.77 Z" fill="#46647e" stroke="#46647e" stroke-width="0.3"/>
<path d="M308.37,671.04 L308.07,672.88 L307.69,674.70 L307.69,686.20 L308.07,684.38 L308.37,682.54 Z" fill="#506f3c" stroke="#506f3c" stroke-width="0.3"/>
<path d="M307.69,674.70 L307.22,676.52 L306.67,678.32 L306.67,689.82 L307.22,688.02 L307.69,686.20 Z" fill="#52713c" stroke="#52713c" stroke-width="0.3"/>
<path d="M306.67,678.32 L306.04,680.11 L305.32,681.88 L305.32,693.38 L306.04,691.61 L306.67,689.82 Z" fill="#1e3560" stroke="#1e3560" stroke-width="0.3"/>
<path d="M305.32,681.88 L304.53,683.63 L303.65,685.35 L303.65,696.85 L304.53,695.13 L305.32,693.38 Z" fill="#1f3762" stroke="#1f3762" stroke-width="0.3"/>
<path d="M303.65,685.35 L302.70,687.06 L301.67,688.73 L301.67,700.23 L302.70,698.56 L303.65,696.85 Z" fill="#843c0b" stroke="#843c0b" stroke-width="0.3"/>
<path d="M301.67,688.73 L300.56,690.38 L299.37,692.00 L299.37,703.50 L300.56,701.88 L301.67,700.23 Z" fill="#893e0b" stroke="#893e0b" stroke-width="0.3"/>
<path d="M299.37,692.00 L298.11,693.59 L296.78,695.14 L296.78,706.64 L298.11,705.09 L299.37,703.50 Z" fill="#8e400c" stroke="#8e400c" stroke-width="0.3"/>
<path d="M296.78,695.14 L295.38,696.65 L293.91,698.13 L293.91,709.63 L295.38,708.15 L296.78,706.64 Z" fill="#5c5c5c" stroke="#5c5c5c" stroke-width="0.3"/>
<path d="M293.91,698.13 L292.37,699.57 L290.77,700.96 L290.77,712.46 L292.37,711.07 L293.91,709.63 Z" fill="#5f5f5f" stroke="#5f5f5f" stroke-width="0.3"/>
<path d="M290.77,700.96 L289.10,702.32 L287.38,703.63 L287.38,715.13 L289.10,713.82 L290.77,712.46 Z" fill="#636363" stroke="#636363" stroke-width="0.3"/>
<path d="M287.38,703.63 L285.59,704.89 L283.75,706.10 L283.75,717.60 L285.59,716.39 L287.38,715.13 Z" fill="#9f7800" stroke="#9f7800" stroke-width="0.3"/>
<path d="M283.75,706.10 L281.85,707.26 L279.89,708.38 L279.89,719.88 L281.85,718.76 L283.75,717.60 Z" fill="#a47c00" stroke="#a47c00" stroke-width="0.3"/>
<path d="M279.89,708.38 L277.89,709.44 L275.84,710.45 L275.84,721.95 L277.89,720.94 L279.89,719.88 Z" fill="#a98000" stroke="#a98000" stroke-width="0.3"/>
<path d="M275.84,710.45 L273.75,711.40 L271.61,712.30 L271.61,723.80 L273.75,722.90 L275.84,721.95 Z" fill="#2a6aa5" stroke="#2a6aa5" stroke-width="0.3"/>
<path d="M271.61,712.30 L269.44,713.14 L267.22,713.92 L267.22,725.42 L269.44,724.64 L271.61,723.80 Z" fill="#2b6daa" stroke="#2b6daa" stroke-width="0.3"/>
<path d="M267.22,713.92 L264.97,714.64 L262.69,715.30 L262.69,726.80 L264.97,726.14 L267.22,725.42 Z" fill="#2c70ad" stroke="#2c70ad" stroke-width="0.3"/>
<path d="M262.69,715.30 L260.38,715.91 L258.04,716.45 L258.04,727.95 L260.38,727.41 L262.69,726.80 Z" fill="#527e34" stroke="#527e34" stroke-width="0.3"/>
<path d="M258.04,716.45 L255.68,716.93 L253.30,717.34 L253.30,728.84 L255.68,728.43 L258.04,727.95 Z" fill="#538034" stroke="#538034" stroke-width="0.3"/>
<path d="M253.30,717.34 L250.91,717.69 L248.49,717.98 L248.49,729.48 L250.91,729.19 L253.30,728.84 Z" fill="#548135" stroke="#548135" stroke-width="0.3"/>
<path d="M248.49,717.98 L246.07,718.21 L243.63,718.37 L243.63,729.87 L246.07,729.71 L248.49,729.48 Z" fill="#87a0d0" stroke="#87a0d0" stroke-width="0.3"/>
<path d="M243.63,718.37 L241.19,718.47 L238.75,718.50 L238.75,730.00 L241.19,729.97 L243.63,729.87 Z" fill="#87a1d0" stroke="#87a1d0" stroke-width="0.3"/>
<path d="M238.75,718.50 L236.31,718.47 L233.87,718.37 L233.87,729.87 L236.31,729.97 L238.75,730.00 Z" fill="#87a1d0" stroke="#87a1d0" stroke-width="0.3"/>
<path d="M233.87,718.37 L231.43,718.21 L229.01,717.98 L229.01,729.48 L231.43,729.71 L233.87,729.87 Z" fill="#e7a77c" stroke="#e7a77c" stroke-width="0.3"/>
<path d="M229.01,717.98 L226.59,717.69 L224.20,717.34 L224.20,728.84 L226.59,729.19 L229.01,729.48 Z" fill="#e6a77b" stroke="#e6a77b" stroke-width="0.3"/>
<path d="M224.20,717.34 L221.82,716.93 L219.46,716.45 L219.46,727.95 L221.82,728.43 L224.20,728.84 Z" fill="#e5a67b" stroke="#e5a67b" stroke-width="0.3"/>
<path d="M219.46,716.45 L217.12,715.91 L214.81,715.30 L214.81,726.80 L217.12,727.41 L219.46,727.95 Z" fill="#e4a57a" stroke="#e4a57a" stroke-width="0.3"/>
<path d="M214.81,715.30 L212.53,714.64 L210.28,713.92 L210.28,725.42 L212.53,726.14 L214.81,726.80 Z" fill="#bbbbbb" stroke="#bbbbbb" stroke-width="0.3"/>
<path d="M210.28,713.92 L208.06,713.14 L205.89,712.30 L205.89,723.80 L208.06,724.64 L210.28,725.42 Z" fill="#b9b9b9" stroke="#b9b9b9" stroke-width="0.3"/>
<path d="M205.89,712.30 L203.75,711.40 L201.66,710.45 L201.66,721.95 L203.75,722.90 L205.89,723.80 Z" fill="#b8b8b8" stroke="#b8b8b8" stroke-width="0.3"/>
<path d="M201.66,710.45 L199.61,709.44 L197.61,708.38 L197.61,719.88 L199.61,720.94 L201.66,721.95 Z" fill="#b6b6b6" stroke="#b6b6b6" stroke-width="0.3"/>
<path d="M197.61,708.38 L195.65,707.26 L193.75,706.10 L193.75,717.60 L195.65,718.76 L197.61,719.88 Z" fill="#e5c35b" stroke="#e5c35b" stroke-width="0.3"/>
<path d="M193.75,706.10 L191.91,704.89 L190.12,703.63 L190.12,715.13 L191.91,716.39 L193.75,717.60 Z" fill="#e3c15a" stroke="#e3c15a" stroke-width="0.3"/>
<path d="M190.12,703.63 L188.40,702.32 L186.73,700.96 L186.73,712.46 L188.40,713.82 L190.12,715.13 Z" fill="#e1bf5a" stroke="#e1bf5a" stroke-width="0.3"/>
<path d="M186.73,700.96 L185.13,699.57 L183.59,698.13 L183.59,709.63 L185.13,711.07 L186.73,712.46 Z" fill="#debd59" stroke="#debd59" stroke-width="0.3"/>
<path d="M183.59,698.13 L182.12,696.65 L180.72,695.14 L180.72,706.64 L182.12,708.15 L183.59,709.63 Z" fill="#dcbb58" stroke="#dcbb58" stroke-width="0.3"/>
<path d="M180.72,695.14 L179.39,693.59 L178.13,692.00 L178.13,703.50 L179.39,705.09 L180.72,706.64 Z" fill="#86a7c4" stroke="#86a7c4" stroke-width="0.3"/>
<path d="M178.13,692.00 L176.94,690.38 L175.83,688.73 L175.83,700.23 L176.94,701.88 L178.13,703.50 Z" fill="#85a5c3" stroke="#85a5c3" stroke-width="0.3"/>
<path d="M175.83,688.73 L174.80,687.06 L173.85,685.35 L173.85,696.85 L174.80,698.56 L175.83,700.23 Z" fill="#84a4c1" stroke="#84a4c1" stroke-width="0.3"/>
<path d="M173.85,685.35 L172.97,683.63 L172.18,681.88 L172.18,693.38 L172.97,695.13 L173.85,696.85 Z" fill="#83a2c0" stroke="#83a2c0" stroke-width="0.3"/>
<path d="M172.18,681.88 L171.46,680.11 L170.83,678.32 L170.83,689.82 L171.46,691.61 L172.18,693.38 Z" fill="#82a1be" stroke="#82a1be" stroke-width="0.3"/>
<path d="M170.83,678.32 L169.92,675.16 L169.92,686.66 L170.83,689.82 Z" fill="#8bac75" stroke="#8bac75" stroke-width="0.3"/>
<path d="M169.92,675.16 L169.27,671.96 L169.27,683.46 L169.92,686.66 Z" fill="#8bac74" stroke="#8bac74" stroke-width="0.3"/>
<path d="M169.27,671.96 L168.88,668.74 L168.88,680.24 L169.27,683.46 Z" fill="#8aab74" stroke="#8aab74" stroke-width="0.3"/>
<path d="M168.88,668.74 L168.75,665.50 L168.75,677.00 L168.88,680.24 Z" fill="#8aab74" stroke="#8aab74" stroke-width="0.3"/>
<path d="M238.75,665.5 L238.75,612.50 L241.19,612.53 L243.63,612.63 Z" fill="#4472C4" stroke="#4472C4" stroke-width="0.25" stroke-linejoin="round"/>
<path d="M238.75,665.5 L243.63,612.63 L246.07,612.79 L248.49,613.02 Z" fill="#ED7D31" stroke="#ED7D31" stroke-width="0.25" stroke-linejoin="round"/>
<path d="M238.75,665.5 L248.49,613.02 L250.91,613.31 L253.30,613.66 Z" fill="#A5A5A5" stroke="#A5A5A5" stroke-width="0.25" stroke-linejoin="round"/>
<path d="M238.75,665.5 L253.30,613.66 L255.68,614.07 L258.04,614.55 Z" fill="#FFC000" stroke="#FFC000" stroke-width="0.25" stroke-linejoin="round"/>
<path d="M238.75,665.5 L258.04,614.55 L260.38,615.09 L262.69,615.70 Z" fill="#5B9BD5" stroke="#5B9BD5" stroke-width="0.25" stroke-linejoin="round"/>
<path d="M238.75,665.5 L262.69,615.70 L264.97,616.36 L267.22,617.08 Z" fill="#70AD47" stroke="#70AD47" stroke-width="0.25" stroke-linejoin="round"/>
<path d="M238.75,665.5 L267.22,617.08 L269.44,617.86 L271.61,618.70 Z" fill="#264478" stroke="#264478" stroke-width="0.25" stroke-linejoin="round"/>
<path d="M238.75,665.5 L271.61,618.70 L273.75,619.60 L275.84,620.55 Z" fill="#9E480E" stroke="#9E480E" stroke-width="0.25" stroke-linejoin="round"/>
<path d="M238.75,665.5 L275.84,620.55 L277.89,621.56 L279.89,622.62 Z" fill="#636363" stroke="#636363" stroke-width="0.25" stroke-linejoin="round"/>
<path d="M238.75,665.5 L279.89,622.62 L281.85,623.74 L283.75,624.90 Z" fill="#997300" stroke="#997300" stroke-width="0.25" stroke-linejoin="round"/>
<path d="M238.75,665.5 L283.75,624.90 L285.59,626.11 L287.38,627.37 L289.10,628.68 L290.77,630.04 Z" fill="#255E91" stroke="#255E91" stroke-width="0.25" stroke-linejoin="round"/>
<path d="M238.75,665.5 L290.77,630.04 L292.37,631.43 L293.91,632.87 L295.38,634.35 L296.78,635.86 Z" fill="#43682B" stroke="#43682B" stroke-width="0.25" stroke-linejoin="round"/>
<path d="M238.75,665.5 L296.78,635.86 L298.11,637.41 L299.37,639.00 L300.56,640.62 L301.67,642.27 Z" fill="#698ED0" stroke="#698ED0" stroke-width="0.25" stroke-linejoin="round"/>
<path d="M238.75,665.5 L301.67,642.27 L302.70,643.94 L303.65,645.65 L304.53,647.37 L305.32,649.12 Z" fill="#F1975A" stroke="#F1975A" stroke-width="0.25" stroke-linejoin="round"/>
<path d="M238.75,665.5 L305.32,649.12 L306.04,650.89 L306.67,652.68 L307.22,654.48 L307.69,656.30 Z" fill="#B7B7B7" stroke="#B7B7B7" stroke-width="0.25" stroke-linejoin="round"/>
<path d="M238.75,665.5 L307.69,656.30 L308.07,658.12 L308.37,659.96 L308.58,661.80 L308.71,663.65 Z" fill="#FFCD33" stroke="#FFCD33" stroke-width="0.25" stroke-linejoin="round"/>
<path d="M238.75,665.5 L308.71,663.65 L308.75,665.50 L308.71,667.35 L308.58,669.20 L308.37,671.04 Z" fill="#7CAFDD" stroke="#7CAFDD" stroke-width="0.25" stroke-linejoin="round"/>
<path d="M238.75,665.5 L308.37,671.04 L308.07,672.88 L307.69,674.70 L307.22,676.52 L306.67,678.32 Z" fill="#8CC168" stroke="#8CC168" stroke-width="0.25" stroke-linejoin="round"/>
<path d="M238.75,665.5 L306.67,678.32 L306.04,680.11 L305.32,681.88 L304.53,683.63 L303.65,685.35 Z" fill="#335AA1" stroke="#335AA1" stroke-width="0.25" stroke-linejoin="round"/>
<path d="M238.75,665.5 L303.65,685.35 L302.70,687.06 L301.67,688.73 L300.56,690.38 L299.37,692.00 L298.11,693.59 L296.78,695.14 Z" fill="#D26012" stroke="#D26012" stroke-width="0.25" stroke-linejoin="round"/>
<path d="M238.75,665.5 L296.78,695.14 L295.38,696.65 L293.91,698.13 L292.37,699.57 L290.77,700.96 L289.10,702.32 L287.38,703.63 Z" fill="#848484" stroke="#848484" stroke-width="0.25" stroke-linejoin="round"/>
<path d="M238.75,665.5 L287.38,703.63 L285.59,704.89 L283.75,706.10 L281.85,707.26 L279.89,708.38 L277.89,709.44 L275.84,710.45 Z" fill="#CC9A00" stroke="#CC9A00" stroke-width="0.25" stroke-linejoin="round"/>
<path d="M238.75,665.5 L275.84,710.45 L273.75,711.40 L271.61,712.30 L269.44,713.14 L267.22,713.92 L264.97,714.64 L262.69,715.30 Z" fill="#327DC2" stroke="#327DC2" stroke-width="0.25" stroke-linejoin="round"/>
<path d="M238.75,665.5 L262.69,715.30 L260.38,715.91 L258.04,716.45 L255.68,716.93 L253.30,717.34 L250.91,717.69 L248.49,717.98 Z" fill="#5A8A39" stroke="#5A8A39" stroke-width="0.25" stroke-linejoin="round"/>
<path d="M238.75,665.5 L248.49,717.98 L246.07,718.21 L243.63,718.37 L241.19,718.47 L238.75,718.50 L236.31,718.47 L233.87,718.37 Z" fill="#8FAADC" stroke="#8FAADC" stroke-width="0.25" stroke-linejoin="round"/>
<path d="M238.75,665.5 L233.87,718.37 L231.43,718.21 L229.01,717.98 L226.59,717.69 L224.20,717.34 L221.82,716.93 L219.46,716.45 L217.12,715.91 L214.81,715.30 Z" fill="#F4B183" stroke="#F4B183" stroke-width="0.25" stroke-linejoin="round"/>
<path d="M238.75,665.5 L214.81,715.30 L212.53,714.64 L210.28,713.92 L208.06,713.14 L205.89,712.30 L203.75,711.40 L201.66,710.45 L199.61,709.44 L197.61,708.38 Z" fill="#C9C9C9" stroke="#C9C9C9" stroke-width="0.25" stroke-linejoin="round"/>
<path d="M238.75,665.5 L197.61,708.38 L195.65,707.26 L193.75,706.10 L191.91,704.89 L190.12,703.63 L188.40,702.32 L186.73,700.96 L185.13,699.57 L183.59,698.13 L182.12,696.65 L180.72,695.14 Z" fill="#FFD966" stroke="#FFD966" stroke-width="0.25" stroke-linejoin="round"/>
<path d="M238.75,665.5 L180.72,695.14 L179.39,693.59 L178.13,692.00 L176.94,690.38 L175.83,688.73 L174.80,687.06 L173.85,685.35 L172.97,683.63 L172.18,681.88 L171.46,680.11 L170.83,678.32 Z" fill="#9DC3E6" stroke="#9DC3E6" stroke-width="0.25" stroke-linejoin="round"/>
<path d="M238.75,665.5 L170.83,678.32 L170.28,676.52 L169.81,674.70 L169.43,672.88 L169.13,671.04 L168.92,669.20 L168.79,667.35 L168.75,665.50 L168.79,663.65 L168.92,661.80 L169.13,659.96 Z" fill="#A9D18E" stroke="#A9D18E" stroke-width="0.25" stroke-linejoin="round"/>
<path d="M238.75,665.5 L169.13,659.96 L169.43,658.12 L169.81,656.30 L170.28,654.48 L170.83,652.68 L171.46,650.89 L172.18,649.12 L172.97,647.37 L173.85,645.65 L174.80,643.94 L175.83,642.27 L176.94,640.62 L178.13,639.00 Z" fill="#203864" stroke="#203864" stroke-width="0.25" stroke-linejoin="round"/>
<path d="M238.75,665.5 L178.13,639.00 L179.39,637.41 L180.72,635.86 L182.12,634.35 L183.59,632.87 L185.13,631.43 L186.73,630.04 L188.40,628.68 L190.12,627.37 L191.91,626.11 L193.75,624.90 L195.65,623.74 L197.61,622.62 L199.61,621.56 L201.66,620.55 Z" fill="#843C0C" stroke="#843C0C" stroke-width="0.25" stroke-linejoin="round"/>
<path d="M238.75,665.5 L201.66,620.55 L203.75,619.60 L205.89,618.70 L208.06,617.86 L210.28,617.08 L212.53,616.36 L214.81,615.70 L217.12,615.09 L219.46,614.55 L221.82,614.07 L224.20,613.66 L226.59,613.31 L229.01,613.02 L231.43,612.79 L233.87,612.63 L236.31,612.53 L238.75,612.50 Z" fill="#525252" stroke="#525252" stroke-width="0.25" stroke-linejoin="round"/>
<path d="M308.71,663.95 L308.75,665.80 L308.71,667.65 L308.58,669.50 L308.37,671.34 L308.07,673.18 L307.69,675.00 L307.22,676.82 L306.67,678.62 L306.04,680.41 L305.32,682.18 L304.53,683.93 L303.65,685.65 L302.70,687.36 L301.67,689.03 L300.56,690.68 L299.37,692.30 L298.11,693.89 L296.78,695.44 L295.38,696.95 L293.91,698.43 L292.37,699.87 L290.77,701.26 L289.10,702.62 L287.38,703.93 L285.59,705.19 L283.75,706.40 L281.85,707.56 L279.89,708.68 L277.89,709.74 L275.84,710.75 L273.75,711.70 L271.61,712.60 L269.44,713.44 L267.22,714.22 L264.97,714.94 L262.69,715.60 L260.38,716.21 L258.04,716.75 L255.68,717.23 L253.30,717.64 L250.91,717.99 L248.49,718.28 L246.07,718.51 L243.63,718.67 L241.19,718.77 L238.75,718.80 L236.31,718.77 L233.87,718.67 L231.43,718.51 L229.01,718.28 L226.59,717.99 L224.20,717.64 L221.82,717.23 L219.46,716.75 L217.12,716.21 L214.81,715.60 L212.53,714.94 L210.28,714.22 L208.06,713.44 L205.89,712.60 L203.75,711.70 L201.66,710.75 L199.61,709.74 L197.61,708.68 L195.65,707.56 L193.75,706.40 L191.91,705.19 L190.12,703.93 L188.40,702.62 L186.73,701.26 L185.13,699.87 L183.59,698.43 L182.12,696.95 L180.72,695.44 L179.39,693.89 L178.13,692.30 L176.94,690.68 L175.83,689.03 L174.80,687.36 L173.85,685.65 L172.97,683.93 L172.18,682.18 L171.46,680.41 L170.83,678.62 L170.28,676.82 L169.81,675.00 L169.43,673.18 L169.13,671.34 L168.92,669.50 L168.79,667.65 L168.75,665.80 L168.79,663.95" fill="none" stroke="#fff" stroke-opacity="0.45" stroke-width="0.7"/>
<text x="223.30" y="624.34" font-size="4.84" text-anchor="middle" fill="#fff" textLength="20.54" lengthAdjust="spacingAndGlyphs" stroke="#fff" stroke-width="0.07">TRBV20-1</text><text x="223.30" y="630.28" font-size="5.23" text-anchor="middle" fill="#fff" textLength="19.41" lengthAdjust="spacingAndGlyphs" stroke="#fff" stroke-width="0.07"><tspan font-style="italic">n</tspan>=8 (9%)</text>
<text x="199.30" y="635.14" font-size="4.84" text-anchor="middle" fill="#fff" textLength="16.63" lengthAdjust="spacingAndGlyphs" stroke="#fff" stroke-width="0.07">TRBV27</text><text x="199.30" y="641.08" font-size="5.23" text-anchor="middle" fill="#fff" textLength="19.41" lengthAdjust="spacingAndGlyphs" stroke="#fff" stroke-width="0.07"><tspan font-style="italic">n</tspan>=7 (8%)</text>
<text x="185.80" y="651.94" font-size="4.84" text-anchor="middle" fill="#fff" textLength="18.10" lengthAdjust="spacingAndGlyphs" stroke="#fff" stroke-width="0.07">TRBV6-1</text><text x="185.80" y="657.88" font-size="5.23" text-anchor="middle" fill="#fff" textLength="19.41" lengthAdjust="spacingAndGlyphs" stroke="#fff" stroke-width="0.07"><tspan font-style="italic">n</tspan>=6 (7%)</text>
<text x="182.00" y="667.04" font-size="4.84" text-anchor="middle" fill="#333" textLength="16.63" lengthAdjust="spacingAndGlyphs" stroke="#333" stroke-width="0.07">TRBV19</text><text x="182.00" y="672.98" font-size="5.23" text-anchor="middle" fill="#333" textLength="19.41" lengthAdjust="spacingAndGlyphs" stroke="#333" stroke-width="0.07"><tspan font-style="italic">n</tspan>=5 (6%)</text>
<text x="188.00" y="680.64" font-size="4.84" text-anchor="middle" fill="#333" textLength="20.54" lengthAdjust="spacingAndGlyphs" stroke="#333" stroke-width="0.07">TRBV12-3</text><text x="188.00" y="686.58" font-size="5.23" text-anchor="middle" fill="#333" textLength="19.41" lengthAdjust="spacingAndGlyphs" stroke="#333" stroke-width="0.07"><tspan font-style="italic">n</tspan>=5 (6%)</text>
<text x="198.30" y="693.34" font-size="4.84" text-anchor="middle" fill="#333" textLength="18.10" lengthAdjust="spacingAndGlyphs" stroke="#333" stroke-width="0.07">TRBV5-4</text><text x="198.30" y="699.28" font-size="5.23" text-anchor="middle" fill="#333" textLength="19.41" lengthAdjust="spacingAndGlyphs" stroke="#333" stroke-width="0.07"><tspan font-style="italic">n</tspan>=5 (6%)</text>
<line x1="233.0" y1="611.3" x2="240.0" y2="615.8" stroke="#222" stroke-width="0.95"/>
<line x1="232.5" y1="596.3" x2="245.5" y2="615.0" stroke="#222" stroke-width="0.95"/>
<line x1="236.8" y1="584.3" x2="249.3" y2="613.8" stroke="#222" stroke-width="0.95"/>
<line x1="249.3" y1="597.5" x2="253.0" y2="614.3" stroke="#222" stroke-width="0.95"/>
<line x1="259.3" y1="583.0" x2="259.3" y2="615.0" stroke="#222" stroke-width="0.95"/>
<line x1="269.5" y1="584.5" x2="264.0" y2="616.3" stroke="#222" stroke-width="0.95"/>
<line x1="271.3" y1="589.3" x2="267.5" y2="617.5" stroke="#222" stroke-width="0.95"/>
<line x1="292.5" y1="597.5" x2="272.5" y2="620.0" stroke="#222" stroke-width="0.95"/>
<line x1="274.3" y1="602.5" x2="270.5" y2="618.8" stroke="#222" stroke-width="0.95"/>
<line x1="302.0" y1="603.0" x2="276.3" y2="623.8" stroke="#222" stroke-width="0.95"/>
<line x1="334.3" y1="608.8" x2="285.0" y2="629.3" stroke="#222" stroke-width="0.95"/>
<line x1="327.5" y1="619.5" x2="292.5" y2="633.8" stroke="#222" stroke-width="0.95"/>
<line x1="323.8" y1="628.8" x2="296.3" y2="639.3" stroke="#222" stroke-width="0.95"/>
<line x1="335.0" y1="642.0" x2="300.0" y2="647.0" stroke="#222" stroke-width="0.95"/>
<line x1="315.5" y1="652.5" x2="301.3" y2="654.5" stroke="#222" stroke-width="0.95"/>
<line x1="341.3" y1="657.5" x2="305.0" y2="661.3" stroke="#222" stroke-width="0.95"/>
<line x1="328.8" y1="670.5" x2="305.0" y2="668.3" stroke="#222" stroke-width="0.95"/>
<line x1="328.8" y1="685.0" x2="305.0" y2="675.8" stroke="#222" stroke-width="0.95"/>
<line x1="319.3" y1="696.3" x2="302.5" y2="683.0" stroke="#222" stroke-width="0.95"/>
<line x1="313.3" y1="712.5" x2="295.8" y2="690.8" stroke="#222" stroke-width="0.95"/>
<line x1="306.9" y1="721.9" x2="288.2" y2="698.4" stroke="#222" stroke-width="0.95"/>
<line x1="296.9" y1="734.6" x2="278.5" y2="706.2" stroke="#222" stroke-width="0.95"/>
<line x1="279.6" y1="734.6" x2="267.4" y2="712.0" stroke="#222" stroke-width="0.95"/>
<line x1="260.0" y1="738.1" x2="254.9" y2="715.0" stroke="#222" stroke-width="0.95"/>
<line x1="238.5" y1="741.3" x2="240.0" y2="715.6" stroke="#222" stroke-width="0.95"/>
<line x1="217.8" y1="736.0" x2="224.6" y2="714.0" stroke="#222" stroke-width="0.95"/>
<line x1="198.0" y1="729.3" x2="208.3" y2="708.8" stroke="#222" stroke-width="0.95"/>
<text x="221.30" y="606.04" font-size="4.84" text-anchor="middle" fill="#333" textLength="18.10" lengthAdjust="spacingAndGlyphs" stroke="#333" stroke-width="0.07">TRBV4-3</text><text x="221.30" y="611.98" font-size="5.23" text-anchor="middle" fill="#333" textLength="19.41" lengthAdjust="spacingAndGlyphs" stroke="#333" stroke-width="0.07"><tspan font-style="italic">n</tspan>=1 (1%)</text>
<text x="221.30" y="592.74" font-size="4.84" text-anchor="middle" fill="#333" textLength="18.10" lengthAdjust="spacingAndGlyphs" stroke="#333" stroke-width="0.07">TRBV5-3</text><text x="221.30" y="598.68" font-size="5.23" text-anchor="middle" fill="#333" textLength="19.41" lengthAdjust="spacingAndGlyphs" stroke="#333" stroke-width="0.07"><tspan font-style="italic">n</tspan>=1 (1%)</text>
<text x="229.30" y="578.04" font-size="4.84" text-anchor="middle" fill="#333" textLength="18.10" lengthAdjust="spacingAndGlyphs" stroke="#333" stroke-width="0.07">TRBV5-5</text><text x="229.30" y="583.98" font-size="5.23" text-anchor="middle" fill="#333" textLength="19.41" lengthAdjust="spacingAndGlyphs" stroke="#333" stroke-width="0.07"><tspan font-style="italic">n</tspan>=1 (1%)</text>
<text x="249.30" y="591.24" font-size="4.84" text-anchor="middle" fill="#333" textLength="18.10" lengthAdjust="spacingAndGlyphs" stroke="#333" stroke-width="0.07">TRBV6-4</text><text x="249.30" y="597.18" font-size="5.23" text-anchor="middle" fill="#333" textLength="19.41" lengthAdjust="spacingAndGlyphs" stroke="#333" stroke-width="0.07"><tspan font-style="italic">n</tspan>=1 (1%)</text>
<text x="256.30" y="577.24" font-size="4.84" text-anchor="middle" fill="#333" textLength="18.10" lengthAdjust="spacingAndGlyphs" stroke="#333" stroke-width="0.07">TRBV7-8</text><text x="256.30" y="583.18" font-size="5.23" text-anchor="middle" fill="#333" textLength="19.41" lengthAdjust="spacingAndGlyphs" stroke="#333" stroke-width="0.07"><tspan font-style="italic">n</tspan>=1 (1%)</text>
<text x="276.30" y="578.04" font-size="4.84" text-anchor="middle" fill="#333" textLength="16.63" lengthAdjust="spacingAndGlyphs" stroke="#333" stroke-width="0.07">TRBV15</text><text x="276.30" y="583.98" font-size="5.23" text-anchor="middle" fill="#333" textLength="19.41" lengthAdjust="spacingAndGlyphs" stroke="#333" stroke-width="0.07"><tspan font-style="italic">n</tspan>=1 (1%)</text>
<text x="280.80" y="590.04" font-size="4.84" text-anchor="middle" fill="#333" textLength="20.54" lengthAdjust="spacingAndGlyphs" stroke="#333" stroke-width="0.07">TRBV10-2</text><text x="280.80" y="595.98" font-size="5.23" text-anchor="middle" fill="#333" textLength="19.41" lengthAdjust="spacingAndGlyphs" stroke="#333" stroke-width="0.07"><tspan font-style="italic">n</tspan>=1 (1%)</text>
<text x="303.80" y="593.74" font-size="4.84" text-anchor="middle" fill="#333" textLength="20.22" lengthAdjust="spacingAndGlyphs" stroke="#333" stroke-width="0.07">TRBV11-1</text><text x="303.80" y="599.68" font-size="5.23" text-anchor="middle" fill="#333" textLength="19.41" lengthAdjust="spacingAndGlyphs" stroke="#333" stroke-width="0.07"><tspan font-style="italic">n</tspan>=1 (1%)</text>
<text x="282.50" y="603.54" font-size="4.84" text-anchor="middle" fill="#333" textLength="16.63" lengthAdjust="spacingAndGlyphs" stroke="#333" stroke-width="0.07">TRBV30</text><text x="282.50" y="609.48" font-size="5.23" text-anchor="middle" fill="#333" textLength="19.41" lengthAdjust="spacingAndGlyphs" stroke="#333" stroke-width="0.07"><tspan font-style="italic">n</tspan>=1 (1%)</text>
<text x="313.00" y="606.74" font-size="4.84" text-anchor="middle" fill="#333" textLength="20.54" lengthAdjust="spacingAndGlyphs" stroke="#333" stroke-width="0.07">TRBV24-1</text><text x="313.00" y="612.68" font-size="5.23" text-anchor="middle" fill="#333" textLength="19.41" lengthAdjust="spacingAndGlyphs" stroke="#333" stroke-width="0.07"><tspan font-style="italic">n</tspan>=1 (1%)</text>
<text x="343.30" y="604.24" font-size="4.84" text-anchor="middle" fill="#333" textLength="14.18" lengthAdjust="spacingAndGlyphs" stroke="#333" stroke-width="0.07">TRBV2</text><text x="343.30" y="610.18" font-size="5.23" text-anchor="middle" fill="#333" textLength="19.41" lengthAdjust="spacingAndGlyphs" stroke="#333" stroke-width="0.07"><tspan font-style="italic">n</tspan>=2 (2%)</text>
<text x="339.00" y="617.24" font-size="4.84" text-anchor="middle" fill="#333" textLength="18.10" lengthAdjust="spacingAndGlyphs" stroke="#333" stroke-width="0.07">TRBV4-1</text><text x="339.00" y="623.18" font-size="5.23" text-anchor="middle" fill="#333" textLength="19.41" lengthAdjust="spacingAndGlyphs" stroke="#333" stroke-width="0.07"><tspan font-style="italic">n</tspan>=2 (2%)</text>
<text x="333.80" y="629.54" font-size="4.84" text-anchor="middle" fill="#333" textLength="18.10" lengthAdjust="spacingAndGlyphs" stroke="#333" stroke-width="0.07">TRBV6-2</text><text x="333.80" y="635.48" font-size="5.23" text-anchor="middle" fill="#333" textLength="19.41" lengthAdjust="spacingAndGlyphs" stroke="#333" stroke-width="0.07"><tspan font-style="italic">n</tspan>=2 (2%)</text>
<text x="345.80" y="641.24" font-size="4.84" text-anchor="middle" fill="#333" textLength="16.63" lengthAdjust="spacingAndGlyphs" stroke="#333" stroke-width="0.07">TRBV28</text><text x="345.80" y="647.18" font-size="5.23" text-anchor="middle" fill="#333" textLength="19.41" lengthAdjust="spacingAndGlyphs" stroke="#333" stroke-width="0.07"><tspan font-style="italic">n</tspan>=2 (2%)</text>
<text x="325.50" y="650.54" font-size="4.84" text-anchor="middle" fill="#333" textLength="18.10" lengthAdjust="spacingAndGlyphs" stroke="#333" stroke-width="0.07">TRBV6-8</text><text x="325.50" y="656.48" font-size="5.23" text-anchor="middle" fill="#333" textLength="19.41" lengthAdjust="spacingAndGlyphs" stroke="#333" stroke-width="0.07"><tspan font-style="italic">n</tspan>=2 (2%)</text>
<text x="350.50" y="656.24" font-size="4.84" text-anchor="middle" fill="#333" textLength="18.10" lengthAdjust="spacingAndGlyphs" stroke="#333" stroke-width="0.07">TRBV7-9</text><text x="350.50" y="662.18" font-size="5.23" text-anchor="middle" fill="#333" textLength="19.41" lengthAdjust="spacingAndGlyphs" stroke="#333" stroke-width="0.07"><tspan font-style="italic">n</tspan>=2 (2%)</text>
<text x="339.30" y="669.74" font-size="4.84" text-anchor="middle" fill="#333" textLength="20.54" lengthAdjust="spacingAndGlyphs" stroke="#333" stroke-width="0.07">TRBV10-1</text><text x="339.30" y="675.68" font-size="5.23" text-anchor="middle" fill="#333" textLength="19.41" lengthAdjust="spacingAndGlyphs" stroke="#333" stroke-width="0.07"><tspan font-style="italic">n</tspan>=2 (2%)</text>
<text x="339.30" y="685.74" font-size="4.84" text-anchor="middle" fill="#333" textLength="20.22" lengthAdjust="spacingAndGlyphs" stroke="#333" stroke-width="0.07">TRBV11-3</text><text x="339.30" y="691.68" font-size="5.23" text-anchor="middle" fill="#333" textLength="19.41" lengthAdjust="spacingAndGlyphs" stroke="#333" stroke-width="0.07"><tspan font-style="italic">n</tspan>=2 (2%)</text>
<text x="329.50" y="698.54" font-size="4.84" text-anchor="middle" fill="#333" textLength="20.54" lengthAdjust="spacingAndGlyphs" stroke="#333" stroke-width="0.07">TRBV29-1</text><text x="329.50" y="704.48" font-size="5.23" text-anchor="middle" fill="#333" textLength="19.41" lengthAdjust="spacingAndGlyphs" stroke="#333" stroke-width="0.07"><tspan font-style="italic">n</tspan>=2 (2%)</text>
<text x="324.30" y="713.04" font-size="4.84" text-anchor="middle" fill="#333" textLength="18.10" lengthAdjust="spacingAndGlyphs" stroke="#333" stroke-width="0.07">TRBV6-5</text><text x="324.30" y="718.98" font-size="5.23" text-anchor="middle" fill="#333" textLength="19.41" lengthAdjust="spacingAndGlyphs" stroke="#333" stroke-width="0.07"><tspan font-style="italic">n</tspan>=3 (3%)</text>
<text x="315.90" y="725.54" font-size="4.84" text-anchor="middle" fill="#333" textLength="20.54" lengthAdjust="spacingAndGlyphs" stroke="#333" stroke-width="0.07">TRBV10-3</text><text x="315.90" y="731.48" font-size="5.23" text-anchor="middle" fill="#333" textLength="19.41" lengthAdjust="spacingAndGlyphs" stroke="#333" stroke-width="0.07"><tspan font-style="italic">n</tspan>=3 (3%)</text>
<text x="305.70" y="738.64" font-size="4.84" text-anchor="middle" fill="#333" textLength="20.22" lengthAdjust="spacingAndGlyphs" stroke="#333" stroke-width="0.07">TRBV11-2</text><text x="305.70" y="744.58" font-size="5.23" text-anchor="middle" fill="#333" textLength="19.41" lengthAdjust="spacingAndGlyphs" stroke="#333" stroke-width="0.07"><tspan font-style="italic">n</tspan>=3 (3%)</text>
<text x="281.20" y="741.64" font-size="4.84" text-anchor="middle" fill="#333" textLength="16.63" lengthAdjust="spacingAndGlyphs" stroke="#333" stroke-width="0.07">TRBV18</text><text x="281.20" y="747.58" font-size="5.23" text-anchor="middle" fill="#333" textLength="19.41" lengthAdjust="spacingAndGlyphs" stroke="#333" stroke-width="0.07"><tspan font-style="italic">n</tspan>=3 (3%)</text>
<text x="259.30" y="744.14" font-size="4.84" text-anchor="middle" fill="#333" textLength="20.54" lengthAdjust="spacingAndGlyphs" stroke="#333" stroke-width="0.07">TRBV21-1</text><text x="259.30" y="750.08" font-size="5.23" text-anchor="middle" fill="#333" textLength="19.41" lengthAdjust="spacingAndGlyphs" stroke="#333" stroke-width="0.07"><tspan font-style="italic">n</tspan>=3 (3%)</text>
<text x="238.50" y="746.34" font-size="4.84" text-anchor="middle" fill="#333" textLength="20.54" lengthAdjust="spacingAndGlyphs" stroke="#333" stroke-width="0.07">TRBV25-1</text><text x="238.50" y="752.28" font-size="5.23" text-anchor="middle" fill="#333" textLength="19.41" lengthAdjust="spacingAndGlyphs" stroke="#333" stroke-width="0.07"><tspan font-style="italic">n</tspan>=3 (3%)</text>
<text x="213.80" y="742.54" font-size="4.84" text-anchor="middle" fill="#333" textLength="18.10" lengthAdjust="spacingAndGlyphs" stroke="#333" stroke-width="0.07">TRBV5-1</text><text x="213.80" y="748.48" font-size="5.23" text-anchor="middle" fill="#333" textLength="19.41" lengthAdjust="spacingAndGlyphs" stroke="#333" stroke-width="0.07"><tspan font-style="italic">n</tspan>=4 (4%)</text>
<text x="194.30" y="734.34" font-size="4.84" text-anchor="middle" fill="#333" textLength="18.10" lengthAdjust="spacingAndGlyphs" stroke="#333" stroke-width="0.07">TRBV5-6</text><text x="194.30" y="740.28" font-size="5.23" text-anchor="middle" fill="#333" textLength="19.41" lengthAdjust="spacingAndGlyphs" stroke="#333" stroke-width="0.07"><tspan font-style="italic">n</tspan>=4 (4%)</text>
<text x="177.90" y="724.03" font-size="7.3" text-anchor="middle" fill="#000" font-weight="bold" textLength="27.80" lengthAdjust="spacingAndGlyphs">90 T-PLL</text>
<rect x="0.5" y="0.5" width="519" height="760" fill="none" stroke="#000" stroke-width="1"/>
</svg>
</body></html>
